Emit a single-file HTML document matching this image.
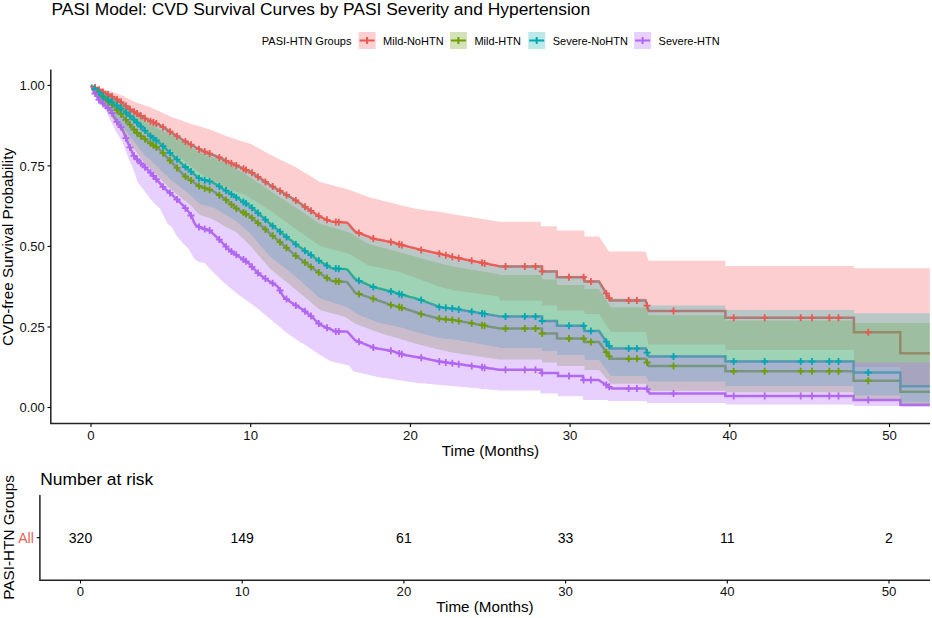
<!DOCTYPE html>
<html><head><meta charset="utf-8"><style>
html,body{margin:0;padding:0;background:#fff;}
svg{display:block;font-family:"Liberation Sans", sans-serif;}
</style></head><body>
<svg width="932" height="618" viewBox="0 0 932 618">
<rect width="932" height="618" fill="#fff"/>
<polyline points="91.0,85.5 92.5,86.3 94.0,87.1 95.5,87.9 97.0,88.7 98.5,89.5 100.0,90.3 101.5,91.1 103.0,91.9 104.5,92.6 106.0,93.4 107.5,94.1 109.0,94.9 110.5,95.7 112.0,96.6 113.5,97.5 115.0,98.4 116.5,99.2 118.0,100.1 119.5,101.0 121.0,102.1 122.5,103.3 124.0,104.5 125.5,105.7 127.0,106.9 128.5,108.2 130.0,109.3 131.5,110.2 133.0,111.1 134.5,112.0 136.0,112.9 137.5,113.8 139.0,114.7 140.5,115.6 142.0,116.5 143.5,117.4 145.0,118.3 146.5,119.1 148.0,120.0 149.5,120.9 151.0,121.5 152.5,122.1 154.0,122.7 155.5,123.3 157.0,123.9 158.5,124.5 160.0,125.3 161.5,126.3 163.0,127.2 164.5,128.2 166.0,129.1 167.5,130.1 169.0,131.0 170.5,132.0 172.0,132.9 173.5,133.9 175.0,134.9 176.5,135.9 178.0,136.8 179.5,137.8 181.0,138.8 182.5,139.7 184.0,140.7 185.5,141.6 187.0,142.4 188.5,143.3 190.0,144.1 191.5,145.0 193.0,145.8 194.5,146.7 196.0,147.5 197.5,148.3 199.0,149.2 200.5,150.0 202.0,150.6 203.5,151.2 205.0,151.8 206.5,152.4 208.0,153.0 209.5,153.6 211.0,154.2 212.5,154.8 214.0,155.4 215.5,156.0 217.0,156.6 218.5,157.2 220.0,157.8 221.5,158.6 223.0,159.3 224.5,160.0 226.0,160.8 227.5,161.5 229.0,162.3 230.5,162.9 232.0,163.6 233.5,164.3 235.0,164.9 236.5,165.6 238.0,166.3 239.5,167.0 241.0,167.6 242.5,168.3 244.0,169.0 245.5,169.6 247.0,170.3 248.5,171.0 250.0,171.7 251.5,172.4 253.0,173.5 254.5,174.5 256.0,175.5 257.5,176.5 259.0,177.5 260.5,178.6 262.0,179.6 263.5,180.6 265.0,181.6 266.5,182.6 268.0,183.6 269.5,184.7 271.0,185.6 272.5,186.5 274.0,187.4 275.5,188.3 277.0,189.2 278.5,190.1 280.0,191.0 281.5,191.9 283.0,192.8 284.5,193.7 286.0,194.6 287.5,195.5 289.0,196.4 290.5,197.3 292.0,198.2 293.5,199.1 295.0,200.0 296.5,201.0 298.0,202.0 299.5,203.0 301.0,204.1 302.5,205.1 304.0,206.1 305.5,207.1 307.0,208.1 308.5,209.1 310.0,210.1 311.5,211.2 313.0,212.2 314.5,213.2 316.0,214.2 317.5,215.2 319.0,216.2 320.5,217.1 322.0,217.7 323.5,218.3 325.0,219.0 326.5,219.6 328.0,220.2 329.5,220.8 331.0,221.4 332.5,221.8 334.0,221.8 335.5,221.9 337.0,222.0 338.5,222.1 340.0,222.2 341.5,222.3 343.0,222.4 344.5,222.5 346.0,222.6 347.5,223.0 349.0,224.7 350.5,226.4 352.0,228.1 353.5,229.8 355.0,231.5 356.5,232.1 358.0,232.7 359.5,233.2 361.0,233.8 362.5,234.4 364.0,235.0 365.5,235.6 367.0,236.1 368.5,236.7 370.0,237.3 371.5,237.9 373.0,238.5 374.5,239.0 376.0,239.3 377.5,239.6 379.0,239.8 380.5,240.1 382.0,240.4 383.5,240.6 385.0,240.9 386.5,241.2 388.0,241.4 389.5,241.7 391.0,242.0 392.5,242.3 394.0,242.8 395.5,243.2 397.0,243.6 398.5,244.1 400.0,244.5 401.5,245.0 403.0,245.4 404.5,245.7 406.0,246.1 407.5,246.5 409.0,246.9 410.5,247.2 412.0,247.6 413.5,248.0 415.0,248.4 416.5,248.8 418.0,249.1 419.5,249.5 421.0,249.9 422.5,250.2 424.0,250.5 425.5,250.8 427.0,251.1 428.5,251.4 430.0,251.7 431.5,252.1 433.0,252.4 434.5,252.7 436.0,253.0 437.5,253.3 439.0,253.6 440.5,253.9 442.0,254.3 443.5,254.7 445.0,255.0 446.5,255.4 448.0,255.8 449.5,256.1 451.0,256.5 452.5,256.9 454.0,257.3 455.5,257.6 457.0,257.9 458.5,258.2 460.0,258.5 461.5,258.8 463.0,259.1 464.5,259.4 466.0,259.7 467.5,260.0 469.0,260.3 470.5,260.6 472.0,260.9 473.5,261.2 475.0,261.5 476.5,261.8 478.0,262.0 479.5,262.3 481.0,262.6 482.5,262.9 484.0,263.2 485.5,263.5 487.0,263.8 488.5,264.1 490.0,264.4 491.5,264.7 493.0,265.0 494.5,265.3 496.0,265.6 497.5,265.9 499.0,266.2 500.0,266.4 542.0,266.4 542.0,271.4 556.8,271.4 556.8,277.2 584.5,277.2 584.5,281.6 599.0,281.6 610.7,300.5 645.6,300.5 648.6,310.9 725.4,310.9 725.4,317.8 853.9,317.8 853.9,332.3 900.3,332.3 900.3,353.2 929.8,353.2" fill="none" stroke="#E65A52" stroke-width="2.5" stroke-linejoin="miter"/><polyline points="91.0,85.5 92.5,87.0 94.0,88.6 95.5,90.1 97.0,91.7 98.5,93.2 100.0,94.7 101.5,96.3 103.0,97.7 104.5,98.9 106.0,100.0 107.5,101.1 109.0,102.3 110.5,103.4 112.0,104.7 113.5,106.3 115.0,107.9 116.5,109.5 118.0,111.1 119.5,112.6 121.0,114.2 122.5,115.8 124.0,117.5 125.5,119.3 127.0,121.1 128.5,122.9 130.0,124.7 131.5,126.5 133.0,128.3 134.5,130.0 136.0,131.8 137.5,133.6 139.0,134.7 140.5,135.8 142.0,137.0 143.5,138.1 145.0,139.2 146.5,140.4 148.0,141.5 149.5,142.6 151.0,143.7 152.5,144.7 154.0,145.7 155.5,146.7 157.0,147.7 158.5,148.7 160.0,150.0 161.5,151.6 163.0,153.2 164.5,154.7 166.0,156.3 167.5,157.9 169.0,159.4 170.5,161.0 172.0,162.6 173.5,164.2 175.0,165.8 176.5,167.4 178.0,169.0 179.5,170.6 181.0,172.2 182.5,173.8 184.0,175.4 185.5,176.6 187.0,177.7 188.5,178.7 190.0,179.8 191.5,180.8 193.0,181.8 194.5,182.9 196.0,183.9 197.5,185.0 199.0,186.0 200.5,186.9 202.0,187.3 203.5,187.8 205.0,188.3 206.5,188.7 208.0,189.2 209.5,189.7 211.0,190.2 212.5,190.8 214.0,191.7 215.5,192.7 217.0,193.7 218.5,194.7 220.0,195.7 221.5,196.7 223.0,197.6 224.5,198.7 226.0,199.9 227.5,201.1 229.0,202.4 230.5,203.6 232.0,204.9 233.5,206.1 235.0,207.3 236.5,208.6 238.0,209.4 239.5,210.3 241.0,211.1 242.5,212.0 244.0,212.8 245.5,213.7 247.0,214.5 248.5,215.4 250.0,216.2 251.5,217.5 253.0,218.8 254.5,220.1 256.0,221.4 257.5,222.7 259.0,223.9 260.5,225.2 262.0,226.5 263.5,227.8 265.0,229.1 266.5,230.4 268.0,231.7 269.5,233.0 271.0,234.3 272.5,235.6 274.0,236.9 275.5,238.2 277.0,239.5 278.5,240.8 280.0,242.1 281.5,243.4 283.0,244.7 284.5,246.0 286.0,247.4 287.5,248.7 289.0,250.0 290.5,251.3 292.0,252.6 293.5,253.9 295.0,255.2 296.5,256.3 298.0,257.4 299.5,258.5 301.0,259.6 302.5,260.7 304.0,261.8 305.5,262.9 307.0,264.0 308.5,265.1 310.0,266.2 311.5,267.3 313.0,268.4 314.5,269.5 316.0,270.6 317.5,271.7 319.0,272.8 320.5,273.8 322.0,274.8 323.5,275.7 325.0,276.7 326.5,277.7 328.0,278.6 329.5,279.6 331.0,280.6 332.5,281.1 334.0,281.1 335.5,281.2 337.0,281.3 338.5,281.4 340.0,281.5 341.5,281.6 343.0,281.7 344.5,281.8 346.0,281.9 347.5,282.4 349.0,284.4 350.5,286.5 352.0,288.5 353.5,290.6 355.0,292.6 356.5,293.1 358.0,293.6 359.5,294.1 361.0,294.6 362.5,295.1 364.0,295.6 365.5,296.1 367.0,296.6 368.5,297.1 370.0,297.6 371.5,298.1 373.0,298.6 374.5,299.1 376.0,299.7 377.5,300.2 379.0,300.7 380.5,301.2 382.0,301.8 383.5,302.3 385.0,302.8 386.5,303.3 388.0,303.9 389.5,304.4 391.0,304.9 392.5,305.4 394.0,305.8 395.5,306.1 397.0,306.5 398.5,306.9 400.0,307.3 401.5,307.7 403.0,308.1 404.5,308.5 406.0,309.0 407.5,309.5 409.0,310.0 410.5,310.5 412.0,311.0 413.5,311.5 415.0,312.0 416.5,312.5 418.0,313.0 419.5,313.5 421.0,314.0 422.5,314.4 424.0,314.8 425.5,315.1 427.0,315.5 428.5,315.9 430.0,316.3 431.5,316.7 433.0,317.0 434.5,317.4 436.0,317.8 437.5,318.2 439.0,318.5 440.5,318.8 442.0,319.0 443.5,319.1 445.0,319.3 446.5,319.4 448.0,319.5 449.5,319.7 451.0,319.8 452.5,320.0 454.0,320.1 455.5,320.3 457.0,320.6 458.5,320.8 460.0,321.1 461.5,321.4 463.0,321.7 464.5,322.0 466.0,322.2 467.5,322.5 469.0,322.8 470.5,323.1 472.0,323.3 473.5,323.6 475.0,323.9 476.5,324.2 478.0,324.4 479.5,324.7 481.0,325.0 482.5,325.3 484.0,325.5 485.5,325.8 487.0,326.1 488.5,326.4 490.0,326.7 491.5,326.9 493.0,327.2 494.5,327.5 496.0,327.8 497.5,328.0 499.0,328.3 500.0,328.5 542.0,328.5 542.0,333.5 557.0,333.5 557.0,338.6 584.5,338.6 584.5,342.0 599.0,342.0 611.0,358.8 645.6,358.8 648.6,366.1 725.4,366.1 725.4,371.3 853.6,371.3 853.6,380.7 900.4,380.7 900.4,391.7 929.8,391.7" fill="none" stroke="#6E9E00" stroke-width="2.5" stroke-linejoin="miter"/><polyline points="91.0,85.5 92.5,86.8 94.0,88.2 95.5,89.5 97.0,90.9 98.5,92.2 100.0,93.6 101.5,94.9 103.0,96.2 104.5,97.2 106.0,98.1 107.5,99.1 109.0,100.1 110.5,101.1 112.0,102.1 113.5,103.1 115.0,104.2 116.5,105.2 118.0,106.2 119.5,107.3 121.0,108.3 122.5,109.4 124.0,110.7 125.5,112.0 127.0,113.4 128.5,114.7 130.0,116.1 131.5,117.4 133.0,118.8 134.5,120.2 136.0,121.7 137.5,123.2 139.0,124.7 140.5,126.2 142.0,127.7 143.5,129.1 145.0,130.6 146.5,132.1 148.0,133.6 149.5,135.1 151.0,136.4 152.5,137.5 154.0,138.7 155.5,139.8 157.0,141.0 158.5,142.1 160.0,143.4 161.5,144.8 163.0,146.2 164.5,147.6 166.0,149.0 167.5,150.4 169.0,151.8 170.5,153.2 172.0,154.6 173.5,156.0 175.0,157.4 176.5,158.8 178.0,160.2 179.5,161.6 181.0,163.0 182.5,164.4 184.0,165.7 185.5,167.0 187.0,168.3 188.5,169.5 190.0,170.8 191.5,172.0 193.0,173.2 194.5,174.5 196.0,175.7 197.5,176.9 199.0,178.2 200.5,179.1 202.0,179.5 203.5,179.9 205.0,180.2 206.5,180.6 208.0,181.0 209.5,181.4 211.0,181.7 212.5,182.2 214.0,183.2 215.5,184.1 217.0,185.0 218.5,185.9 220.0,186.9 221.5,187.8 223.0,188.7 224.5,189.6 226.0,190.6 227.5,191.6 229.0,192.6 230.5,193.6 232.0,194.6 233.5,195.6 235.0,196.6 236.5,197.6 238.0,198.5 239.5,199.4 241.0,200.4 242.5,201.3 244.0,202.2 245.5,203.2 247.0,204.1 248.5,205.1 250.0,206.0 251.5,207.3 253.0,208.7 254.5,210.0 256.0,211.3 257.5,212.6 259.0,214.0 260.5,215.3 262.0,216.6 263.5,217.9 265.0,219.3 266.5,220.6 268.0,221.9 269.5,223.3 271.0,224.5 272.5,225.7 274.0,226.9 275.5,228.1 277.0,229.3 278.5,230.5 280.0,231.7 281.5,232.9 283.0,234.1 284.5,235.3 286.0,236.5 287.5,237.7 289.0,238.9 290.5,240.1 292.0,241.3 293.5,242.5 295.0,243.7 296.5,244.8 298.0,245.8 299.5,246.9 301.0,248.0 302.5,249.0 304.0,250.1 305.5,251.2 307.0,252.2 308.5,253.3 310.0,254.4 311.5,255.4 313.0,256.5 314.5,257.6 316.0,258.7 317.5,259.7 319.0,260.8 320.5,261.8 322.0,262.7 323.5,263.5 325.0,264.4 326.5,265.3 328.0,266.1 329.5,267.0 331.0,267.9 332.5,268.4 334.0,268.4 335.5,268.5 337.0,268.6 338.5,268.7 340.0,268.8 341.5,268.9 343.0,269.0 344.5,269.1 346.0,269.2 347.5,269.7 349.0,271.5 350.5,273.4 352.0,275.3 353.5,277.1 355.0,279.0 356.5,279.7 358.0,280.3 359.5,281.0 361.0,281.7 362.5,282.4 364.0,283.0 365.5,283.7 367.0,284.4 368.5,285.1 370.0,285.7 371.5,286.4 373.0,287.0 374.5,287.3 376.0,287.7 377.5,288.1 379.0,288.5 380.5,288.8 382.0,289.2 383.5,289.6 385.0,290.0 386.5,290.4 388.0,290.7 389.5,291.1 391.0,291.5 392.5,291.9 394.0,292.4 395.5,292.8 397.0,293.2 398.5,293.7 400.0,294.1 401.5,294.6 403.0,295.0 404.5,295.4 406.0,295.8 407.5,296.2 409.0,296.7 410.5,297.1 412.0,297.5 413.5,297.9 415.0,298.3 416.5,298.7 418.0,299.2 419.5,299.6 421.0,300.0 422.5,300.6 424.0,301.1 425.5,301.7 427.0,302.3 428.5,302.8 430.0,303.4 431.5,304.0 433.0,304.5 434.5,305.1 436.0,305.7 437.5,306.3 439.0,306.8 440.5,307.3 442.0,307.4 443.5,307.6 445.0,307.7 446.5,307.9 448.0,308.1 449.5,308.2 451.0,308.4 452.5,308.5 454.0,308.7 455.5,308.9 457.0,309.1 458.5,309.4 460.0,309.7 461.5,309.9 463.0,310.2 464.5,310.4 466.0,310.7 467.5,310.9 469.0,311.2 470.5,311.5 472.0,311.7 473.5,312.0 475.0,312.2 476.5,312.5 478.0,312.7 479.5,313.0 481.0,313.2 482.5,313.5 484.0,313.8 485.5,314.0 487.0,314.3 488.5,314.5 490.0,314.8 491.5,315.0 493.0,315.3 494.5,315.6 496.0,315.8 497.5,316.1 499.0,316.3 500.0,316.5 542.0,316.5 542.0,321.0 557.0,321.0 557.0,325.8 584.5,325.8 584.5,331.0 599.0,331.0 611.0,348.6 645.6,348.6 648.6,356.6 725.4,356.6 725.4,361.5 853.6,361.5 853.6,372.5 900.4,372.5 900.4,386.2 929.8,386.2" fill="none" stroke="#00A8B4" stroke-width="2.5" stroke-linejoin="miter"/><polyline points="91.0,85.5 92.5,88.7 94.0,91.9 95.5,94.3 97.0,96.7 98.5,99.2 100.0,100.8 101.5,102.2 103.0,103.7 104.5,105.1 106.0,106.3 107.5,107.6 109.0,108.8 110.5,110.2 112.0,113.0 113.5,115.8 115.0,118.6 116.5,121.2 118.0,123.2 119.5,125.2 121.0,127.1 122.5,129.6 124.0,133.3 125.5,137.1 127.0,140.6 128.5,144.0 130.0,147.4 131.5,150.8 133.0,154.2 134.5,156.6 136.0,158.2 137.5,159.8 139.0,161.4 140.5,162.9 142.0,164.5 143.5,165.9 145.0,167.3 146.5,168.7 148.0,170.1 149.5,171.5 151.0,173.2 152.5,174.9 154.0,176.6 155.5,178.3 157.0,180.0 158.5,181.7 160.0,183.4 161.5,185.1 163.0,186.8 164.5,188.5 166.0,189.7 167.5,190.9 169.0,192.1 170.5,193.3 172.0,194.7 173.5,196.1 175.0,197.6 176.5,199.0 178.0,200.5 179.5,201.9 181.0,203.4 182.5,204.8 184.0,206.5 185.5,208.3 187.0,210.0 188.5,211.8 190.0,213.5 191.5,216.5 193.0,219.8 194.5,223.2 196.0,225.4 197.5,226.1 199.0,226.9 200.5,227.6 202.0,228.3 203.5,228.7 205.0,229.2 206.5,229.6 208.0,230.0 209.5,230.4 211.0,231.7 212.5,233.2 214.0,234.6 215.5,236.0 217.0,237.4 218.5,238.8 220.0,240.3 221.5,241.9 223.0,243.5 224.5,245.1 226.0,246.7 227.5,248.3 229.0,249.9 230.5,250.9 232.0,251.9 233.5,252.9 235.0,254.0 236.5,255.0 238.0,256.0 239.5,257.0 241.0,258.0 242.5,259.0 244.0,260.0 245.5,261.0 247.0,262.0 248.5,263.0 250.0,264.6 251.5,266.2 253.0,267.8 254.5,269.4 256.0,271.0 257.5,272.6 259.0,274.0 260.5,275.1 262.0,276.2 263.5,277.3 265.0,278.3 266.5,279.4 268.0,280.5 269.5,281.4 271.0,282.3 272.5,283.2 274.0,284.1 275.5,285.0 277.0,285.9 278.5,287.8 280.0,290.5 281.5,293.3 283.0,296.1 284.5,297.7 286.0,298.8 287.5,299.8 289.0,300.9 290.5,301.9 292.0,303.0 293.5,304.0 295.0,304.9 296.5,305.8 298.0,306.7 299.5,307.6 301.0,308.5 302.5,309.4 304.0,310.5 305.5,311.7 307.0,312.9 308.5,314.1 310.0,315.3 311.5,316.5 313.0,317.8 314.5,319.3 316.0,320.8 317.5,322.2 319.0,323.7 320.5,324.9 322.0,325.6 323.5,326.2 325.0,326.9 326.5,327.6 328.0,328.2 329.5,328.9 331.0,329.5 332.5,330.2 334.0,330.8 335.5,331.5 337.0,331.5 338.5,331.5 340.0,331.5 341.5,331.5 343.0,331.5 344.5,331.5 346.0,331.5 347.5,331.8 349.0,333.5 350.5,335.2 352.0,336.9 353.5,338.5 355.0,340.2 356.5,340.8 358.0,341.4 359.5,342.0 361.0,342.6 362.5,343.2 364.0,343.8 365.5,344.4 367.0,345.0 368.5,345.6 370.0,346.2 371.5,346.8 373.0,347.4 374.5,348.0 376.0,348.3 377.5,348.5 379.0,348.8 380.5,349.0 382.0,349.3 383.5,349.5 385.0,349.8 386.5,350.0 388.0,350.3 389.5,350.5 391.0,350.8 392.5,351.1 394.0,351.6 395.5,352.1 397.0,352.6 398.5,353.1 400.0,353.6 401.5,354.1 403.0,354.6 404.5,355.0 406.0,355.2 407.5,355.5 409.0,355.7 410.5,356.0 412.0,356.2 413.5,356.5 415.0,356.7 416.5,357.0 418.0,357.2 419.5,357.5 421.0,357.7 422.5,358.0 424.0,358.3 425.5,358.6 427.0,358.9 428.5,359.2 430.0,359.5 431.5,359.9 433.0,360.2 434.5,360.5 436.0,360.8 437.5,361.1 439.0,361.4 440.5,361.7 442.0,361.9 443.5,362.1 445.0,362.3 446.5,362.5 448.0,362.7 449.5,362.9 451.0,363.1 452.5,363.3 454.0,363.5 455.5,363.7 457.0,363.9 458.5,364.1 460.0,364.3 461.5,364.5 463.0,364.7 464.5,364.9 466.0,365.2 467.5,365.4 469.0,365.6 470.5,365.8 472.0,366.0 473.5,366.2 475.0,366.4 476.5,366.6 478.0,366.8 479.5,367.0 481.0,367.2 482.5,367.4 484.0,367.6 485.5,367.8 487.0,368.0 488.5,368.2 490.0,368.4 491.5,368.6 493.0,368.8 494.5,369.0 496.0,369.3 497.5,369.5 499.0,369.7 500.0,369.8 541.5,369.8 541.5,373.1 558.0,373.1 558.0,376.0 583.0,376.0 583.0,379.9 598.5,379.9 612.0,388.6 646.8,388.6 649.7,393.6 725.4,393.6 725.4,395.9 853.6,395.9 853.6,400.0 900.4,400.0 900.4,404.7 929.8,404.7" fill="none" stroke="#B066F0" stroke-width="2.5" stroke-linejoin="miter"/>
<polygon points="91.0,85.5 92.5,85.9 94.0,86.4 95.5,86.8 97.0,87.2 98.5,87.7 100.0,88.1 101.5,88.6 103.0,89.0 104.5,89.4 106.0,89.9 107.5,90.3 109.0,90.7 110.5,91.2 112.0,91.7 113.5,92.3 115.0,92.9 116.5,93.5 118.0,94.0 119.5,94.6 121.0,95.2 122.5,95.8 124.0,96.6 125.5,97.3 127.0,98.1 128.5,98.8 130.0,99.6 131.5,100.3 133.0,101.1 134.5,101.8 136.0,102.3 137.5,102.8 139.0,103.4 140.5,103.9 142.0,104.4 143.5,105.0 145.0,105.5 146.5,106.1 148.0,106.6 149.5,107.1 151.0,107.7 152.5,108.4 154.0,109.0 155.5,109.6 157.0,110.3 158.5,110.9 160.0,111.6 161.5,112.3 163.0,113.0 164.5,113.7 166.0,114.4 167.5,115.1 169.0,115.8 170.5,116.6 172.0,117.2 173.5,117.7 175.0,118.2 176.5,118.7 178.0,119.3 179.5,119.8 181.0,120.3 182.5,120.8 184.0,121.4 185.5,121.9 187.0,122.4 188.5,122.9 190.0,123.5 191.5,123.9 193.0,124.4 194.5,124.8 196.0,125.3 197.5,125.7 199.0,126.2 200.5,126.6 202.0,127.1 203.5,127.5 205.0,128.0 206.5,128.4 208.0,128.9 209.5,129.3 211.0,129.9 212.5,130.5 214.0,131.1 215.5,131.7 217.0,132.3 218.5,132.9 220.0,133.5 221.5,134.1 223.0,134.7 224.5,135.3 226.0,135.9 227.5,136.5 229.0,137.1 230.5,137.6 232.0,138.0 233.5,138.5 235.0,139.0 236.5,139.5 238.0,139.9 239.5,140.4 241.0,140.9 242.5,141.3 244.0,141.8 245.5,142.3 247.0,142.7 248.5,143.2 250.0,143.7 251.5,144.3 253.0,145.1 254.5,146.0 256.0,146.8 257.5,147.6 259.0,148.5 260.5,149.3 262.0,150.1 263.5,151.0 265.0,151.8 266.5,152.6 268.0,153.5 269.5,154.3 271.0,155.1 272.5,155.8 274.0,156.5 275.5,157.3 277.0,158.0 278.5,158.7 280.0,159.4 281.5,160.2 283.0,160.9 284.5,161.6 286.0,162.3 287.5,163.1 289.0,163.8 290.5,164.5 292.0,165.2 293.5,166.0 295.0,166.7 296.5,167.6 298.0,168.5 299.5,169.5 301.0,170.4 302.5,171.3 304.0,172.2 305.5,173.1 307.0,174.0 308.5,175.0 310.0,175.9 311.5,176.8 313.0,177.7 314.5,178.6 316.0,179.6 317.5,180.5 319.0,181.4 320.5,182.1 322.0,182.5 323.5,182.9 325.0,183.3 326.5,183.7 328.0,184.1 329.5,184.5 331.0,184.9 332.5,185.3 334.0,185.7 335.5,186.1 337.0,186.5 338.5,186.9 340.0,187.3 341.5,187.7 343.0,188.1 344.5,188.5 346.0,188.9 347.5,189.3 349.0,189.7 350.5,190.2 352.0,190.8 353.5,191.4 355.0,191.9 356.5,192.5 358.0,193.0 359.5,193.6 361.0,194.2 362.5,194.7 364.0,195.3 365.5,195.9 367.0,196.4 368.5,197.0 370.0,197.4 371.5,197.8 373.0,198.2 374.5,198.5 376.0,198.9 377.5,199.3 379.0,199.7 380.5,200.1 382.0,200.5 383.5,200.9 385.0,201.2 386.5,201.6 388.0,202.0 389.5,202.4 391.0,202.8 392.5,203.2 394.0,203.5 395.5,203.9 397.0,204.3 398.5,204.7 400.0,205.0 401.5,205.4 403.0,205.8 404.5,206.1 406.0,206.5 407.5,206.8 409.0,207.2 410.5,207.5 412.0,207.9 413.5,208.2 415.0,208.6 416.5,209.0 418.0,209.2 419.5,209.4 421.0,209.6 422.5,209.8 424.0,210.0 425.5,210.2 427.0,210.4 428.5,210.5 430.0,210.7 431.5,210.9 433.0,211.1 434.5,211.3 436.0,211.5 437.5,211.7 439.0,211.9 440.5,212.1 442.0,212.3 443.5,212.6 445.0,212.9 446.5,213.1 448.0,213.4 449.5,213.6 451.0,213.9 452.5,214.2 454.0,214.4 455.5,214.7 457.0,214.9 458.5,215.2 460.0,215.4 461.5,215.6 463.0,215.9 464.5,216.1 466.0,216.4 467.5,216.6 469.0,216.8 470.5,217.1 472.0,217.3 473.5,217.6 475.0,217.8 476.5,218.0 478.0,218.3 479.5,218.5 481.0,218.8 482.5,219.0 484.0,219.2 485.5,219.5 487.0,219.7 488.5,220.0 490.0,220.2 491.5,220.4 493.0,220.7 494.5,220.9 496.0,221.2 497.5,221.4 499.0,221.6 500.0,221.8 540.8,221.8 540.8,226.2 556.8,226.2 556.8,230.6 584.5,230.6 584.5,236.4 599.0,236.4 609.0,251.5 645.6,251.5 648.6,260.8 725.4,260.8 725.4,266.1 853.9,266.1 853.9,268.3 929.8,268.3 929.8,386.3 900.3,386.3 900.3,366.9 853.9,366.9 853.9,350.0 725.4,350.0 725.4,344.5 648.6,344.5 645.6,332.0 611.0,332.0 599.0,314.0 584.5,314.0 584.5,310.5 557.0,310.5 557.0,305.5 542.0,305.5 542.0,300.5 500.0,300.5 499.0,296.4 497.5,296.2 496.0,296.0 494.5,295.8 493.0,295.6 491.5,295.4 490.0,295.2 488.5,295.0 487.0,294.8 485.5,294.6 484.0,294.4 482.5,294.2 481.0,294.0 479.5,293.8 478.0,293.6 476.5,293.4 475.0,293.2 473.5,293.0 472.0,292.8 470.5,292.6 469.0,292.4 467.5,292.2 466.0,292.0 464.5,291.8 463.0,291.6 461.5,291.4 460.0,291.2 458.5,291.0 457.0,290.8 455.5,290.6 454.0,290.3 452.5,289.9 451.0,289.5 449.5,289.1 448.0,288.8 446.5,288.4 445.0,288.0 443.5,287.7 442.0,287.3 440.5,286.9 439.0,286.4 437.5,285.9 436.0,285.3 434.5,284.8 433.0,284.2 431.5,283.7 430.0,283.1 428.5,282.6 427.0,282.0 425.5,281.5 424.0,280.9 422.5,280.4 421.0,279.8 419.5,279.3 418.0,278.7 416.5,278.2 415.0,277.6 413.5,277.1 412.0,276.5 410.5,276.0 409.0,275.4 407.5,274.9 406.0,274.3 404.5,273.8 403.0,273.2 401.5,272.7 400.0,272.1 398.5,271.6 397.0,271.2 395.5,270.9 394.0,270.6 392.5,270.2 391.0,269.9 389.5,269.6 388.0,269.3 386.5,269.0 385.0,268.7 383.5,268.4 382.0,268.1 380.5,267.8 379.0,267.5 377.5,267.2 376.0,266.9 374.5,266.6 373.0,266.3 371.5,266.0 370.0,265.7 368.5,265.4 367.0,264.5 365.5,263.6 364.0,262.7 362.5,261.8 361.0,260.9 359.5,260.0 358.0,259.1 356.5,258.2 355.0,257.3 353.5,256.4 352.0,255.5 350.5,254.6 349.0,253.8 347.5,253.4 346.0,253.0 344.5,252.6 343.0,252.2 341.5,251.8 340.0,251.4 338.5,251.0 337.0,250.6 335.5,250.2 334.0,249.8 332.5,249.4 331.0,248.9 329.5,248.5 328.0,248.1 326.5,247.7 325.0,247.3 323.5,246.9 322.0,246.5 320.5,246.1 319.0,245.3 317.5,244.2 316.0,243.2 314.5,242.2 313.0,241.1 311.5,240.1 310.0,239.0 308.5,237.9 307.0,236.9 305.5,235.8 304.0,234.8 302.5,233.8 301.0,232.7 299.5,231.7 298.0,230.6 296.5,229.6 295.0,228.5 293.5,227.4 292.0,226.3 290.5,225.2 289.0,224.2 287.5,223.1 286.0,222.0 284.5,220.9 283.0,219.8 281.5,218.7 280.0,217.6 278.5,216.6 277.0,215.5 275.5,214.4 274.0,213.3 272.5,212.2 271.0,211.1 269.5,210.1 268.0,209.1 266.5,208.2 265.0,207.2 263.5,206.3 262.0,205.3 260.5,204.4 259.0,203.4 257.5,202.5 256.0,201.6 254.5,200.6 253.0,199.7 251.5,198.7 250.0,197.8 248.5,196.8 247.0,195.9 245.5,194.9 244.0,194.3 242.5,193.8 241.0,193.4 239.5,192.9 238.0,192.4 236.5,192.0 235.0,191.5 233.5,191.0 232.0,190.6 230.5,189.9 229.0,189.1 227.5,188.3 226.0,187.5 224.5,186.6 223.0,185.8 221.5,185.0 220.0,184.2 218.5,183.4 217.0,182.6 215.5,181.7 214.0,180.9 212.5,180.1 211.0,179.3 209.5,178.5 208.0,177.7 206.5,176.8 205.0,176.0 203.5,175.2 202.0,174.4 200.5,173.6 199.0,172.5 197.5,171.4 196.0,170.2 194.5,169.0 193.0,167.8 191.5,166.7 190.0,165.5 188.5,164.3 187.0,163.2 185.5,162.0 184.0,160.8 182.5,159.7 181.0,158.5 179.5,157.3 178.0,156.1 176.5,155.0 175.0,153.8 173.5,152.7 172.0,151.7 170.5,150.6 169.0,149.6 167.5,148.5 166.0,147.5 164.5,146.4 163.0,145.4 161.5,144.3 160.0,143.2 158.5,142.2 157.0,141.1 155.5,140.1 154.0,139.0 152.5,138.0 151.0,136.9 149.5,135.7 148.0,134.4 146.5,133.0 145.0,131.7 143.5,130.3 142.0,128.9 140.5,127.6 139.0,126.2 137.5,124.8 136.0,123.5 134.5,122.1 133.0,120.7 131.5,119.4 130.0,118.0 128.5,116.6 127.0,115.3 125.5,113.9 124.0,112.5 122.5,111.2 121.0,109.8 119.5,108.5 118.0,107.2 116.5,106.0 115.0,104.8 113.5,103.6 112.0,102.4 110.5,101.2 109.0,100.0 107.5,98.8 106.0,97.6 104.5,96.3 103.0,95.1 101.5,93.9 100.0,92.7 98.5,91.5 97.0,90.3 95.5,89.1 94.0,87.9 92.5,86.7 91.0,85.5" fill="#F66B6E" fill-opacity="0.33"/><polygon points="91.0,85.5 92.5,86.4 94.0,87.2 95.5,88.1 97.0,88.9 98.5,89.8 100.0,90.6 101.5,91.5 103.0,92.4 104.5,93.2 106.0,94.1 107.5,94.9 109.0,95.8 110.5,96.6 112.0,97.5 113.5,98.4 115.0,99.2 116.5,100.1 118.0,100.9 119.5,101.9 121.0,103.0 122.5,104.1 124.0,105.2 125.5,106.3 127.0,107.5 128.5,108.6 130.0,109.7 131.5,110.8 133.0,111.9 134.5,113.0 136.0,114.2 137.5,115.3 139.0,116.4 140.5,117.5 142.0,118.6 143.5,119.8 145.0,120.9 146.5,122.0 148.0,123.1 149.5,124.2 151.0,125.1 152.5,125.9 154.0,126.6 155.5,127.4 157.0,128.2 158.5,128.9 160.0,129.7 161.5,130.4 163.0,131.2 164.5,132.0 166.0,132.7 167.5,133.5 169.0,134.3 170.5,135.0 172.0,135.8 173.5,136.5 175.0,137.3 176.5,138.2 178.0,139.2 179.5,140.1 181.0,141.0 182.5,142.0 184.0,142.9 185.5,143.9 187.0,144.8 188.5,145.7 190.0,146.7 191.5,147.6 193.0,148.5 194.5,149.5 196.0,150.4 197.5,151.3 199.0,152.3 200.5,153.1 202.0,153.7 203.5,154.2 205.0,154.8 206.5,155.4 208.0,155.9 209.5,156.5 211.0,157.1 212.5,157.7 214.0,158.2 215.5,158.8 217.0,159.4 218.5,159.9 220.0,160.5 221.5,161.1 223.0,161.6 224.5,162.2 226.0,163.0 227.5,163.8 229.0,164.7 230.5,165.6 232.0,166.5 233.5,167.3 235.0,168.2 236.5,169.1 238.0,169.9 239.5,170.8 241.0,171.7 242.5,172.6 244.0,173.4 245.5,174.3 247.0,175.4 248.5,176.4 250.0,177.4 251.5,178.4 253.0,179.4 254.5,180.5 256.0,181.5 257.5,182.5 259.0,183.5 260.5,184.5 262.0,185.6 263.5,186.6 265.0,187.6 266.5,188.6 268.0,189.6 269.5,190.7 271.0,191.6 272.5,192.6 274.0,193.6 275.5,194.5 277.0,195.5 278.5,196.4 280.0,197.4 281.5,198.4 283.0,199.3 284.5,200.3 286.0,201.2 287.5,202.2 289.0,203.2 290.5,204.1 292.0,205.1 293.5,206.0 295.0,207.0 296.5,208.0 298.0,209.0 299.5,210.1 301.0,211.1 302.5,212.1 304.0,213.1 305.5,214.1 307.0,215.2 308.5,216.2 310.0,217.2 311.5,218.2 313.0,219.2 314.5,220.3 316.0,221.3 317.5,222.3 319.0,223.3 320.5,224.1 322.0,224.6 323.5,225.0 325.0,225.4 326.5,225.9 328.0,226.3 329.5,226.7 331.0,227.2 332.5,227.6 334.0,228.0 335.5,228.5 337.0,228.9 338.5,229.3 340.0,229.8 341.5,230.2 343.0,230.6 344.5,231.1 346.0,231.5 347.5,231.9 349.0,232.4 350.5,233.2 352.0,234.1 353.5,235.1 355.0,236.0 356.5,236.9 358.0,237.8 359.5,238.7 361.0,239.6 362.5,240.5 364.0,241.4 365.5,242.3 367.0,243.2 368.5,244.1 370.0,244.5 371.5,244.9 373.0,245.3 374.5,245.7 376.0,246.1 377.5,246.5 379.0,246.9 380.5,247.3 382.0,247.7 383.5,248.1 385.0,248.5 386.5,248.8 388.0,249.2 389.5,249.6 391.0,250.0 392.5,250.4 394.0,250.8 395.5,251.2 397.0,251.6 398.5,252.0 400.0,252.4 401.5,252.9 403.0,253.3 404.5,253.7 406.0,254.1 407.5,254.5 409.0,254.9 410.5,255.3 412.0,255.8 413.5,256.2 415.0,256.6 416.5,257.0 418.0,257.4 419.5,257.8 421.0,258.2 422.5,258.7 424.0,259.1 425.5,259.5 427.0,259.9 428.5,260.3 430.0,260.7 431.5,261.1 433.0,261.6 434.5,262.0 436.0,262.4 437.5,262.8 439.0,263.2 440.5,263.6 442.0,264.0 443.5,264.3 445.0,264.6 446.5,265.0 448.0,265.3 449.5,265.7 451.0,266.0 452.5,266.3 454.0,266.7 455.5,267.0 457.0,267.2 458.5,267.5 460.0,267.7 461.5,268.0 463.0,268.3 464.5,268.5 466.0,268.8 467.5,269.0 469.0,269.3 470.5,269.5 472.0,269.8 473.5,270.0 475.0,270.3 476.5,270.5 478.0,270.8 479.5,271.0 481.0,271.3 482.5,271.5 484.0,271.8 485.5,272.1 487.0,272.3 488.5,272.6 490.0,272.8 491.5,273.1 493.0,273.3 494.5,273.6 496.0,273.8 497.5,274.1 499.0,274.3 500.0,275.0 542.0,275.0 542.0,279.5 557.0,279.5 557.0,285.0 584.5,285.0 584.5,289.0 599.0,289.0 611.0,307.5 645.6,307.5 648.6,315.3 725.4,315.3 725.4,320.6 853.9,320.6 853.9,323.0 929.8,323.0 929.8,404.5 900.4,404.5 900.4,399.0 853.6,399.0 853.6,392.2 725.4,392.2 725.4,390.7 648.6,390.7 645.6,383.7 611.0,383.7 599.0,370.0 584.5,370.0 584.5,366.0 557.0,366.0 557.0,362.5 542.0,362.5 542.0,359.6 500.0,359.6 499.0,359.5 497.5,359.2 496.0,359.0 494.5,358.8 493.0,358.6 491.5,358.4 490.0,358.1 488.5,357.9 487.0,357.7 485.5,357.5 484.0,357.3 482.5,357.0 481.0,356.8 479.5,356.6 478.0,356.4 476.5,356.2 475.0,355.9 473.5,355.7 472.0,355.5 470.5,355.3 469.0,355.1 467.5,354.8 466.0,354.6 464.5,354.4 463.0,354.2 461.5,354.0 460.0,353.7 458.5,353.5 457.0,353.3 455.5,353.1 454.0,352.8 452.5,352.5 451.0,352.2 449.5,351.9 448.0,351.6 446.5,351.2 445.0,350.9 443.5,350.6 442.0,350.3 440.5,350.0 439.0,349.6 437.5,349.3 436.0,348.9 434.5,348.5 433.0,348.1 431.5,347.7 430.0,347.4 428.5,347.0 427.0,346.6 425.5,346.2 424.0,345.8 422.5,345.5 421.0,345.1 419.5,344.7 418.0,344.3 416.5,343.9 415.0,343.5 413.5,343.0 412.0,342.6 410.5,342.1 409.0,341.7 407.5,341.2 406.0,340.8 404.5,340.3 403.0,339.9 401.5,339.4 400.0,339.0 398.5,338.5 397.0,338.1 395.5,337.6 394.0,337.2 392.5,336.7 391.0,336.3 389.5,335.8 388.0,335.4 386.5,334.9 385.0,334.4 383.5,334.0 382.0,333.5 380.5,333.1 379.0,332.6 377.5,332.1 376.0,331.5 374.5,331.0 373.0,330.4 371.5,329.9 370.0,329.3 368.5,328.7 367.0,328.2 365.5,327.6 364.0,327.1 362.5,326.5 361.0,325.9 359.5,325.4 358.0,324.8 356.5,324.3 355.0,323.7 353.5,322.7 352.0,321.6 350.5,320.6 349.0,319.5 347.5,318.5 346.0,317.5 344.5,316.7 343.0,316.3 341.5,315.9 340.0,315.5 338.5,315.1 337.0,314.7 335.5,314.2 334.0,313.8 332.5,313.4 331.0,313.0 329.5,312.6 328.0,312.2 326.5,311.8 325.0,311.4 323.5,311.0 322.0,310.5 320.5,310.1 319.0,309.2 317.5,307.9 316.0,306.6 314.5,305.4 313.0,304.1 311.5,302.9 310.0,301.6 308.5,300.3 307.0,299.1 305.5,297.8 304.0,296.6 302.5,295.3 301.0,294.0 299.5,292.8 298.0,291.5 296.5,290.3 295.0,289.0 293.5,287.8 292.0,286.6 290.5,285.3 289.0,284.1 287.5,282.9 286.0,281.7 284.5,280.4 283.0,279.2 281.5,278.0 280.0,276.8 278.5,275.5 277.0,274.3 275.5,273.1 274.0,271.9 272.5,270.6 271.0,269.4 269.5,268.0 268.0,266.3 266.5,264.6 265.0,262.8 263.5,261.1 262.0,259.4 260.5,257.6 259.0,255.9 257.5,254.2 256.0,252.4 254.5,250.7 253.0,249.0 251.5,247.2 250.0,245.5 248.5,244.0 247.0,242.6 245.5,241.1 244.0,239.6 242.5,238.2 241.0,236.7 239.5,235.2 238.0,233.8 236.5,232.3 235.0,231.5 233.5,230.7 232.0,230.0 230.5,229.2 229.0,228.5 227.5,227.7 226.0,227.0 224.5,226.2 223.0,225.3 221.5,224.4 220.0,223.5 218.5,222.6 217.0,221.7 215.5,220.8 214.0,219.9 212.5,219.0 211.0,218.5 209.5,218.0 208.0,217.6 206.5,217.1 205.0,216.7 203.5,216.2 202.0,215.8 200.5,215.3 199.0,214.1 197.5,212.5 196.0,210.9 194.5,209.4 193.0,207.8 191.5,206.2 190.0,204.7 188.5,203.5 187.0,202.3 185.5,201.1 184.0,199.9 182.5,198.7 181.0,197.5 179.5,196.3 178.0,195.2 176.5,194.0 175.0,192.8 173.5,191.6 172.0,190.4 170.5,189.1 169.0,187.6 167.5,186.0 166.0,184.5 164.5,183.0 163.0,181.4 161.5,179.9 160.0,178.4 158.5,176.9 157.0,175.3 155.5,173.8 154.0,172.3 152.5,170.7 151.0,169.2 149.5,167.8 148.0,166.5 146.5,165.3 145.0,164.0 143.5,161.9 142.0,159.8 140.5,157.8 139.0,155.7 137.5,153.6 136.0,151.5 134.5,149.5 133.0,147.4 131.5,145.3 130.0,143.2 128.5,141.2 127.0,139.1 125.5,137.0 124.0,134.9 122.5,132.8 121.0,130.8 119.5,128.7 118.0,126.5 116.5,124.2 115.0,122.0 113.5,119.8 112.0,117.5 110.5,115.2 109.0,113.0 107.5,110.8 106.0,108.5 104.5,106.2 103.0,104.0 101.5,101.8 100.0,99.5 98.5,97.2 97.0,95.0 95.5,92.8 94.0,90.5 92.5,88.2 91.0,86.0" fill="#7CA51E" fill-opacity="0.33"/><polygon points="91.0,84.0 92.5,84.8 94.0,85.6 95.5,86.4 97.0,87.2 98.5,88.0 100.0,88.8 101.5,89.6 103.0,90.4 104.5,91.1 106.0,91.9 107.5,92.6 109.0,93.4 110.5,94.2 112.0,95.1 113.5,96.0 115.0,96.9 116.5,97.7 118.0,98.6 119.5,99.5 121.0,100.6 122.5,101.8 124.0,103.0 125.5,104.2 127.0,105.4 128.5,106.7 130.0,107.8 131.5,108.7 133.0,109.6 134.5,110.5 136.0,111.4 137.5,112.3 139.0,113.2 140.5,114.1 142.0,115.0 143.5,115.9 145.0,116.8 146.5,117.6 148.0,118.5 149.5,119.4 151.0,120.0 152.5,120.6 154.0,121.2 155.5,121.8 157.0,122.4 158.5,123.0 160.0,123.8 161.5,124.8 163.0,125.7 164.5,126.7 166.0,127.6 167.5,128.6 169.0,129.5 170.5,130.5 172.0,131.4 173.5,132.4 175.0,133.4 176.5,134.4 178.0,135.3 179.5,136.3 181.0,137.3 182.5,138.2 184.0,139.2 185.5,140.1 187.0,140.9 188.5,141.8 190.0,142.6 191.5,143.5 193.0,144.3 194.5,145.2 196.0,146.0 197.5,146.8 199.0,147.7 200.5,148.5 202.0,149.1 203.5,149.7 205.0,150.3 206.5,150.9 208.0,151.5 209.5,152.1 211.0,152.7 212.5,153.3 214.0,153.9 215.5,154.5 217.0,155.1 218.5,155.7 220.0,156.3 221.5,157.1 223.0,157.8 224.5,158.5 226.0,159.3 227.5,160.0 229.0,160.8 230.5,161.4 232.0,162.1 233.5,162.8 235.0,163.4 236.5,164.1 238.0,164.8 239.5,165.5 241.0,166.1 242.5,166.8 244.0,167.5 245.5,168.1 247.0,168.8 248.5,169.5 250.0,170.2 251.5,170.9 253.0,172.0 254.5,173.0 256.0,174.0 257.5,175.0 259.0,176.0 260.5,177.1 262.0,178.1 263.5,179.1 265.0,180.1 266.5,181.1 268.0,182.1 269.5,183.2 271.0,184.1 272.5,185.0 274.0,185.9 275.5,186.8 277.0,187.7 278.5,188.6 280.0,189.5 281.5,190.4 283.0,191.3 284.5,192.2 286.0,193.1 287.5,194.0 289.0,194.9 290.5,195.8 292.0,196.7 293.5,197.6 295.0,198.5 296.5,199.7 298.0,200.9 299.5,202.1 301.0,203.3 302.5,204.5 304.0,205.7 305.5,206.9 307.0,208.1 308.5,209.2 310.0,210.4 311.5,211.6 313.0,212.8 314.5,214.0 316.0,215.2 317.5,216.4 319.0,217.6 320.5,218.6 322.0,219.2 323.5,219.8 325.0,220.5 326.5,221.1 328.0,221.7 329.5,222.3 331.0,222.9 332.5,223.3 334.0,223.3 335.5,223.4 337.0,223.5 338.5,223.6 340.0,223.7 341.5,223.8 343.0,223.9 344.5,224.0 346.0,224.1 347.5,224.5 349.0,226.2 350.5,227.9 352.0,229.6 353.5,231.3 355.0,233.0 356.5,233.6 358.0,234.2 359.5,234.7 361.0,235.3 362.5,235.9 364.0,236.5 365.5,237.1 367.0,237.6 368.5,238.2 370.0,238.8 371.5,239.4 373.0,240.0 374.5,240.5 376.0,240.8 377.5,241.1 379.0,241.3 380.5,241.6 382.0,241.9 383.5,242.1 385.0,242.4 386.5,242.7 388.0,242.9 389.5,243.2 391.0,243.5 392.5,243.8 394.0,244.3 395.5,244.7 397.0,245.1 398.5,245.6 400.0,246.0 401.5,246.5 403.0,246.9 404.5,247.2 406.0,247.6 407.5,248.0 409.0,248.4 410.5,248.7 412.0,249.1 413.5,249.5 415.0,249.9 416.5,250.3 418.0,250.6 419.5,251.0 421.0,251.4 422.5,251.7 424.0,252.0 425.5,252.3 427.0,252.6 428.5,252.9 430.0,253.2 431.5,253.6 433.0,253.9 434.5,254.2 436.0,254.5 437.5,254.8 439.0,255.1 440.5,255.4 442.0,255.8 443.5,256.2 445.0,256.5 446.5,256.9 448.0,257.3 449.5,257.6 451.0,258.0 452.5,258.4 454.0,258.8 455.5,259.1 457.0,259.4 458.5,259.7 460.0,260.0 461.5,260.3 463.0,260.6 464.5,260.9 466.0,261.2 467.5,261.5 469.0,261.8 470.5,262.1 472.0,262.4 473.5,262.7 475.0,263.0 476.5,263.3 478.0,263.5 479.5,263.8 481.0,264.1 482.5,264.4 484.0,264.7 485.5,265.0 487.0,265.3 488.5,265.6 490.0,265.9 491.5,266.2 493.0,266.5 494.5,266.8 496.0,267.1 497.5,267.4 499.0,267.7 500.0,265.0 542.0,265.0 542.0,270.0 556.8,270.0 556.8,275.8 584.5,275.8 584.5,280.0 599.0,280.0 610.7,298.5 645.6,298.5 648.6,305.5 725.4,305.5 725.4,310.0 853.9,310.0 853.9,313.3 929.8,313.3 929.8,402.6 900.4,402.6 900.4,395.6 853.6,395.6 853.6,386.0 725.4,386.0 725.4,381.5 648.6,381.5 645.6,376.0 611.0,376.0 599.0,360.0 584.5,360.0 584.5,355.0 557.0,355.0 557.0,351.0 542.0,351.0 542.0,348.0 500.0,348.0 499.0,347.3 497.5,347.1 496.0,346.8 494.5,346.5 493.0,346.3 491.5,346.0 490.0,345.7 488.5,345.5 487.0,345.2 485.5,345.0 484.0,344.7 482.5,344.4 481.0,344.2 479.5,343.9 478.0,343.6 476.5,343.4 475.0,343.1 473.5,342.8 472.0,342.6 470.5,342.3 469.0,342.1 467.5,341.8 466.0,341.5 464.5,341.3 463.0,341.0 461.5,340.7 460.0,340.5 458.5,340.2 457.0,340.0 455.5,339.7 454.0,339.5 452.5,339.4 451.0,339.3 449.5,339.1 448.0,339.0 446.5,338.9 445.0,338.7 443.5,338.6 442.0,338.5 440.5,338.3 439.0,338.0 437.5,337.7 436.0,337.3 434.5,336.9 433.0,336.5 431.5,336.1 430.0,335.7 428.5,335.3 427.0,335.0 425.5,334.6 424.0,334.2 422.5,333.8 421.0,333.4 419.5,333.0 418.0,332.6 416.5,332.2 415.0,331.8 413.5,331.3 412.0,330.9 410.5,330.4 409.0,330.0 407.5,329.5 406.0,329.1 404.5,328.6 403.0,328.2 401.5,327.7 400.0,327.3 398.5,326.8 397.0,326.5 395.5,326.2 394.0,325.9 392.5,325.6 391.0,325.3 389.5,325.0 388.0,324.7 386.5,324.3 385.0,324.0 383.5,323.7 382.0,323.4 380.5,323.1 379.0,322.8 377.5,322.4 376.0,321.8 374.5,321.2 373.0,320.6 371.5,320.0 370.0,319.4 368.5,318.8 367.0,318.2 365.5,317.6 364.0,317.1 362.5,316.5 361.0,315.9 359.5,315.3 358.0,314.5 356.5,313.5 355.0,312.4 353.5,311.4 352.0,310.4 350.5,309.4 349.0,308.4 347.5,307.4 346.0,306.8 344.5,306.3 343.0,305.8 341.5,305.4 340.0,304.9 338.5,304.4 337.0,303.9 335.5,303.4 334.0,302.9 332.5,302.4 331.0,302.0 329.5,301.5 328.0,301.0 326.5,300.5 325.0,300.0 323.5,299.5 322.0,299.0 320.5,298.6 319.0,297.5 317.5,296.2 316.0,294.8 314.5,293.5 313.0,292.1 311.5,290.8 310.0,289.4 308.5,288.1 307.0,286.8 305.5,285.4 304.0,284.1 302.5,282.7 301.0,281.4 299.5,280.0 298.0,278.7 296.5,277.3 295.0,276.0 293.5,274.8 292.0,273.7 290.5,272.5 289.0,271.3 287.5,270.1 286.0,269.0 284.5,267.8 283.0,266.6 281.5,265.5 280.0,264.3 278.5,263.1 277.0,262.0 275.5,260.8 274.0,259.6 272.5,258.4 271.0,257.3 269.5,255.9 268.0,254.2 266.5,252.5 265.0,250.7 263.5,249.0 262.0,247.3 260.5,245.5 259.0,243.8 257.5,242.1 256.0,240.3 254.5,238.6 253.0,236.9 251.5,235.1 250.0,233.4 248.5,232.1 247.0,230.7 245.5,229.4 244.0,228.1 242.5,226.7 241.0,225.4 239.5,224.1 238.0,222.7 236.5,221.4 235.0,220.5 233.5,219.6 232.0,218.6 230.5,217.7 229.0,216.8 227.5,215.9 226.0,215.0 224.5,214.1 223.0,213.2 221.5,212.3 220.0,211.4 218.5,210.5 217.0,209.6 215.5,208.7 214.0,207.8 212.5,206.9 211.0,206.5 209.5,206.2 208.0,205.9 206.5,205.6 205.0,205.3 203.5,205.0 202.0,204.7 200.5,204.4 199.0,203.3 197.5,201.9 196.0,200.4 194.5,199.0 193.0,197.5 191.5,196.1 190.0,194.7 188.5,193.5 187.0,192.4 185.5,191.2 184.0,190.1 182.5,188.9 181.0,187.7 179.5,186.6 178.0,185.4 176.5,184.3 175.0,183.1 173.5,181.9 172.0,180.8 170.5,179.5 169.0,178.0 167.5,176.6 166.0,175.1 164.5,173.7 163.0,172.2 161.5,170.7 160.0,169.3 158.5,167.8 157.0,166.3 155.5,164.9 154.0,163.4 152.5,161.9 151.0,160.5 149.5,159.2 148.0,158.1 146.5,157.1 145.0,156.0 143.5,154.0 142.0,152.1 140.5,150.1 139.0,148.2 137.5,146.2 136.0,144.2 134.5,142.3 133.0,140.3 131.5,138.3 130.0,136.4 128.5,134.4 127.0,132.5 125.5,130.5 124.0,128.5 122.5,126.6 121.0,124.6 119.5,122.7 118.0,120.7 116.5,118.8 115.0,116.9 113.5,114.9 112.0,113.0 110.5,111.1 109.0,109.1 107.5,107.2 106.0,105.3 104.5,103.4 103.0,101.4 101.5,99.5 100.0,97.6 98.5,95.6 97.0,93.7 95.5,91.8 94.0,89.9 92.5,87.9 91.0,86.0" fill="#31B8B6" fill-opacity="0.33"/><polygon points="91.0,87.0 92.5,88.3 94.0,89.7 95.5,91.0 97.0,92.4 98.5,93.7 100.0,95.1 101.5,96.4 103.0,97.7 104.5,98.7 106.0,99.6 107.5,100.6 109.0,101.6 110.5,102.6 112.0,103.6 113.5,104.6 115.0,105.7 116.5,106.7 118.0,107.7 119.5,108.8 121.0,109.8 122.5,110.9 124.0,112.2 125.5,113.5 127.0,114.9 128.5,116.2 130.0,117.6 131.5,118.9 133.0,120.3 134.5,121.7 136.0,123.2 137.5,124.7 139.0,126.2 140.5,127.7 142.0,129.2 143.5,130.6 145.0,132.1 146.5,133.6 148.0,135.1 149.5,136.6 151.0,137.9 152.5,139.0 154.0,140.2 155.5,141.3 157.0,142.5 158.5,143.6 160.0,144.9 161.5,146.3 163.0,147.7 164.5,149.1 166.0,150.5 167.5,151.9 169.0,153.3 170.5,154.7 172.0,156.1 173.5,157.5 175.0,158.9 176.5,160.3 178.0,161.7 179.5,163.1 181.0,164.5 182.5,165.9 184.0,167.2 185.5,168.5 187.0,169.8 188.5,171.0 190.0,172.3 191.5,173.5 193.0,174.7 194.5,176.0 196.0,177.2 197.5,178.4 199.0,179.7 200.5,180.6 202.0,181.0 203.5,181.4 205.0,181.7 206.5,182.1 208.0,182.5 209.5,182.9 211.0,183.2 212.5,183.7 214.0,184.7 215.5,185.6 217.0,186.5 218.5,187.4 220.0,188.4 221.5,189.3 223.0,190.2 224.5,191.1 226.0,192.1 227.5,193.1 229.0,194.1 230.5,195.1 232.0,196.1 233.5,197.1 235.0,198.1 236.5,199.1 238.0,200.0 239.5,200.9 241.0,201.9 242.5,202.8 244.0,203.8 245.5,204.7 247.0,205.6 248.5,206.6 250.0,207.5 251.5,208.8 253.0,210.2 254.5,211.5 256.0,212.8 257.5,214.1 259.0,215.5 260.5,216.8 262.0,218.1 263.5,219.4 265.0,220.8 266.5,222.1 268.0,223.4 269.5,224.8 271.0,226.0 272.5,227.2 274.0,228.4 275.5,229.6 277.0,230.8 278.5,232.0 280.0,233.2 281.5,234.4 283.0,235.6 284.5,236.8 286.0,238.0 287.5,239.2 289.0,240.4 290.5,241.6 292.0,242.8 293.5,244.0 295.0,245.2 296.5,246.3 298.0,247.3 299.5,248.4 301.0,249.5 302.5,250.5 304.0,251.6 305.5,252.7 307.0,253.7 308.5,254.8 310.0,255.9 311.5,256.9 313.0,258.0 314.5,259.1 316.0,260.2 317.5,261.2 319.0,262.3 320.5,263.3 322.0,264.2 323.5,265.0 325.0,265.9 326.5,266.8 328.0,267.6 329.5,268.5 331.0,269.4 332.5,269.9 334.0,269.9 335.5,270.0 337.0,270.1 338.5,270.2 340.0,270.3 341.5,270.4 343.0,270.5 344.5,270.6 346.0,270.7 347.5,271.2 349.0,273.0 350.5,274.9 352.0,276.8 353.5,278.6 355.0,280.5 356.5,281.2 358.0,281.8 359.5,282.5 361.0,283.2 362.5,283.9 364.0,284.5 365.5,285.2 367.0,285.9 368.5,286.6 370.0,287.2 371.5,287.9 373.0,288.5 374.5,288.8 376.0,289.2 377.5,289.6 379.0,290.0 380.5,290.3 382.0,290.7 383.5,291.1 385.0,291.5 386.5,291.9 388.0,292.2 389.5,292.6 391.0,293.0 392.5,293.4 394.0,293.9 395.5,294.3 397.0,294.7 398.5,295.2 400.0,295.6 401.5,296.1 403.0,296.5 404.5,296.9 406.0,297.3 407.5,297.7 409.0,298.2 410.5,298.6 412.0,299.0 413.5,299.4 415.0,299.8 416.5,300.2 418.0,300.7 419.5,301.1 421.0,301.5 422.5,301.9 424.0,302.2 425.5,302.6 427.0,303.0 428.5,303.4 430.0,303.7 431.5,304.1 433.0,304.5 434.5,304.8 436.0,305.2 437.5,305.6 439.0,306.0 440.5,306.3 442.0,306.4 443.5,306.6 445.0,306.7 446.5,306.9 448.0,307.1 449.5,307.2 451.0,307.4 452.5,307.5 454.0,307.7 455.5,307.9 457.0,308.1 458.5,308.4 460.0,308.7 461.5,308.9 463.0,309.2 464.5,309.4 466.0,309.7 467.5,309.9 469.0,310.2 470.5,310.5 472.0,310.7 473.5,311.0 475.0,311.2 476.5,311.5 478.0,311.7 479.5,312.0 481.0,312.2 482.5,312.5 484.0,312.8 485.5,313.0 487.0,313.3 488.5,313.5 490.0,313.8 491.5,314.0 493.0,314.3 494.5,314.6 496.0,314.8 497.5,315.1 499.0,315.3 500.0,315.5 542.0,315.5 542.0,320.0 557.0,320.0 557.0,324.8 584.5,324.8 584.5,330.0 599.0,330.0 611.0,347.6 645.6,347.6 648.6,355.3 725.4,355.3 725.4,360.3 853.6,360.3 853.6,362.6 929.8,362.6 929.8,407.0 900.4,407.0 900.4,406.0 853.6,406.0 853.6,404.5 725.4,404.5 725.4,403.0 646.8,403.0 646.8,401.0 608.0,401.0 608.0,400.0 583.0,400.0 583.0,396.3 558.0,396.3 558.0,393.4 540.6,393.4 540.6,390.5 500.0,390.5 499.0,390.4 497.5,390.3 496.0,390.1 494.5,390.0 493.0,389.8 491.5,389.7 490.0,389.6 488.5,389.4 487.0,389.3 485.5,389.1 484.0,389.0 482.5,388.9 481.0,388.7 479.5,388.6 478.0,388.4 476.5,388.3 475.0,388.2 473.5,388.0 472.0,387.9 470.5,387.7 469.0,387.6 467.5,387.5 466.0,387.3 464.5,387.2 463.0,387.0 461.5,386.9 460.0,386.8 458.5,386.6 457.0,386.5 455.5,386.3 454.0,386.2 452.5,386.1 451.0,385.9 449.5,385.8 448.0,385.6 446.5,385.5 445.0,385.4 443.5,385.2 442.0,385.1 440.5,384.9 439.0,384.8 437.5,384.7 436.0,384.6 434.5,384.4 433.0,384.3 431.5,384.2 430.0,384.0 428.5,383.9 427.0,383.8 425.5,383.6 424.0,383.5 422.5,383.4 421.0,383.2 419.5,383.1 418.0,383.0 416.5,382.8 415.0,382.6 413.5,382.4 412.0,382.1 410.5,381.9 409.0,381.7 407.5,381.5 406.0,381.2 404.5,381.0 403.0,380.8 401.5,380.6 400.0,380.3 398.5,380.1 397.0,379.9 395.5,379.7 394.0,379.4 392.5,379.2 391.0,379.0 389.5,378.8 388.0,378.6 386.5,378.3 385.0,378.1 383.5,377.9 382.0,377.7 380.5,377.4 379.0,377.2 377.5,376.9 376.0,376.6 374.5,376.2 373.0,375.9 371.5,375.5 370.0,375.2 368.5,374.9 367.0,374.5 365.5,374.2 364.0,373.8 362.5,373.5 361.0,373.1 359.5,372.8 358.0,372.4 356.5,372.1 355.0,371.8 353.5,371.4 352.0,369.8 350.5,367.5 349.0,365.4 347.5,365.1 346.0,364.7 344.5,364.4 343.0,364.1 341.5,363.7 340.0,363.4 338.5,363.1 337.0,362.8 335.5,362.4 334.0,362.1 332.5,361.8 331.0,361.2 329.5,360.4 328.0,359.5 326.5,358.7 325.0,357.8 323.5,357.0 322.0,356.1 320.5,355.3 319.0,354.3 317.5,353.3 316.0,352.3 314.5,351.2 313.0,350.2 311.5,349.2 310.0,348.2 308.5,347.2 307.0,346.1 305.5,345.2 304.0,344.3 302.5,343.3 301.0,342.4 299.5,341.5 298.0,340.6 296.5,339.6 295.0,338.6 293.5,337.6 292.0,336.6 290.5,335.6 289.0,334.6 287.5,333.6 286.0,332.3 284.5,331.0 283.0,329.7 281.5,328.4 280.0,327.1 278.5,325.8 277.0,324.5 275.5,323.4 274.0,322.2 272.5,321.0 271.0,319.8 269.5,318.6 268.0,317.4 266.5,316.1 265.0,314.8 263.5,313.5 262.0,312.2 260.5,310.9 259.0,309.6 257.5,308.4 256.0,307.3 254.5,306.2 253.0,305.1 251.5,304.0 250.0,302.9 248.5,301.8 247.0,300.7 245.5,299.7 244.0,298.6 242.5,297.6 241.0,296.5 239.5,295.5 238.0,294.3 236.5,293.1 235.0,291.9 233.5,290.6 232.0,289.4 230.5,288.2 229.0,286.9 227.5,285.6 226.0,284.3 224.5,283.0 223.0,281.7 221.5,280.3 220.0,279.0 218.5,277.6 217.0,276.1 215.5,274.6 214.0,273.1 212.5,271.6 211.0,270.1 209.5,268.6 208.0,266.8 206.5,265.0 205.0,263.3 203.5,262.7 202.0,262.4 200.5,262.2 199.0,261.9 197.5,261.1 196.0,260.0 194.5,258.9 193.0,256.5 191.5,253.9 190.0,251.2 188.5,248.8 187.0,247.3 185.5,245.8 184.0,244.3 182.5,242.8 181.0,241.0 179.5,239.3 178.0,237.5 176.5,235.7 175.0,232.9 173.5,229.9 172.0,227.0 170.5,226.0 169.0,224.9 167.5,223.6 166.0,220.6 164.5,217.6 163.0,214.7 161.5,211.7 160.0,208.7 158.5,207.3 157.0,205.8 155.5,204.4 154.0,202.9 152.5,201.5 151.0,199.7 149.5,197.7 148.0,195.7 146.5,193.7 145.0,191.7 143.5,189.7 142.0,187.7 140.5,185.7 139.0,183.8 137.5,181.7 136.0,177.1 134.5,172.5 133.0,168.4 131.5,165.1 130.0,161.8 128.5,158.4 127.0,154.4 125.5,150.2 124.0,146.0 122.5,142.1 121.0,139.7 119.5,137.3 118.0,135.0 116.5,132.4 115.0,129.4 113.5,126.4 112.0,123.4 110.5,120.4 109.0,117.4 107.5,114.3 106.0,111.3 104.5,109.0 103.0,106.9 101.5,104.8 100.0,102.7 98.5,104.5 97.0,100.5 95.5,96.5 94.0,92.5 92.5,88.8 91.0,86.0" fill="#B970FC" fill-opacity="0.33"/>
<path d="M91.5,87.6h7M95.0,84.1v7" stroke="#E65A52" stroke-width="1.8"/>
<path d="M95.5,89.7h7M99.0,86.2v7" stroke="#E65A52" stroke-width="1.8"/>
<path d="M99.5,91.9h7M103.0,88.4v7" stroke="#E65A52" stroke-width="1.8"/>
<path d="M104.5,94.4h7M108.0,90.9v7" stroke="#E65A52" stroke-width="1.8"/>
<path d="M108.5,96.6h7M112.0,93.1v7" stroke="#E65A52" stroke-width="1.8"/>
<path d="M113.5,99.5h7M117.0,96.0v7" stroke="#E65A52" stroke-width="1.8"/>
<path d="M117.5,102.1h7M121.0,98.6v7" stroke="#E65A52" stroke-width="1.8"/>
<path d="M122.5,106.1h7M126.0,102.6v7" stroke="#E65A52" stroke-width="1.8"/>
<path d="M126.5,109.3h7M130.0,105.8v7" stroke="#E65A52" stroke-width="1.8"/>
<path d="M130.5,111.7h7M134.0,108.2v7" stroke="#E65A52" stroke-width="1.8"/>
<path d="M133.5,113.5h7M137.0,110.0v7" stroke="#E65A52" stroke-width="1.8"/>
<path d="M137.3,115.8h7M140.8,112.3v7" stroke="#E65A52" stroke-width="1.8"/>
<path d="M141.5,118.3h7M145.0,114.8v7" stroke="#E65A52" stroke-width="1.8"/>
<path d="M147.0,121.3h7M150.5,117.8v7" stroke="#E65A52" stroke-width="1.8"/>
<path d="M149.9,122.4h7M153.4,118.9v7" stroke="#E65A52" stroke-width="1.8"/>
<path d="M152.8,123.6h7M156.3,120.1v7" stroke="#E65A52" stroke-width="1.8"/>
<path d="M159.5,127.2h7M163.0,123.7v7" stroke="#E65A52" stroke-width="1.8"/>
<path d="M166.5,131.7h7M170.0,128.2v7" stroke="#E65A52" stroke-width="1.8"/>
<path d="M173.5,136.2h7M177.0,132.7v7" stroke="#E65A52" stroke-width="1.8"/>
<path d="M181.9,141.5h7M185.4,138.0v7" stroke="#E65A52" stroke-width="1.8"/>
<path d="M187.5,144.7h7M191.0,141.2v7" stroke="#E65A52" stroke-width="1.8"/>
<path d="M195.5,149.2h7M199.0,145.7v7" stroke="#E65A52" stroke-width="1.8"/>
<path d="M201.2,151.6h7M204.7,148.1v7" stroke="#E65A52" stroke-width="1.8"/>
<path d="M206.1,153.6h7M209.6,150.1v7" stroke="#E65A52" stroke-width="1.8"/>
<path d="M215.8,157.5h7M219.3,154.0v7" stroke="#E65A52" stroke-width="1.8"/>
<path d="M222.5,160.8h7M226.0,157.3v7" stroke="#E65A52" stroke-width="1.8"/>
<path d="M227.9,163.3h7M231.4,159.8v7" stroke="#E65A52" stroke-width="1.8"/>
<path d="M232.8,165.5h7M236.3,162.0v7" stroke="#E65A52" stroke-width="1.8"/>
<path d="M240.0,168.7h7M243.5,165.2v7" stroke="#E65A52" stroke-width="1.8"/>
<path d="M242.5,169.9h7M246.0,166.4v7" stroke="#E65A52" stroke-width="1.8"/>
<path d="M248.5,172.8h7M252.0,169.3v7" stroke="#E65A52" stroke-width="1.8"/>
<path d="M254.5,176.9h7M258.0,173.4v7" stroke="#E65A52" stroke-width="1.8"/>
<path d="M261.9,181.9h7M265.4,178.4v7" stroke="#E65A52" stroke-width="1.8"/>
<path d="M269.2,186.6h7M272.7,183.1v7" stroke="#E65A52" stroke-width="1.8"/>
<path d="M276.5,191.0h7M280.0,187.5v7" stroke="#E65A52" stroke-width="1.8"/>
<path d="M283.0,194.9h7M286.5,191.4v7" stroke="#E65A52" stroke-width="1.8"/>
<path d="M292.3,200.5h7M295.8,197.0v7" stroke="#E65A52" stroke-width="1.8"/>
<path d="M301.5,206.8h7M305.0,203.3v7" stroke="#E65A52" stroke-width="1.8"/>
<path d="M307.5,210.8h7M311.0,207.3v7" stroke="#E65A52" stroke-width="1.8"/>
<path d="M315.3,216.1h7M318.8,212.6v7" stroke="#E65A52" stroke-width="1.8"/>
<path d="M323.5,219.8h7M327.0,216.3v7" stroke="#E65A52" stroke-width="1.8"/>
<path d="M332.3,222.0h7M335.8,218.5v7" stroke="#E65A52" stroke-width="1.8"/>
<path d="M335.3,222.2h7M338.8,218.7v7" stroke="#E65A52" stroke-width="1.8"/>
<path d="M355.5,233.0h7M359.0,229.5v7" stroke="#E65A52" stroke-width="1.8"/>
<path d="M369.8,238.6h7M373.3,235.1v7" stroke="#E65A52" stroke-width="1.8"/>
<path d="M387.4,241.9h7M390.9,238.4v7" stroke="#E65A52" stroke-width="1.8"/>
<path d="M395.7,244.3h7M399.2,240.8v7" stroke="#E65A52" stroke-width="1.8"/>
<path d="M398.3,245.0h7M401.8,241.5v7" stroke="#E65A52" stroke-width="1.8"/>
<path d="M417.7,249.9h7M421.2,246.4v7" stroke="#E65A52" stroke-width="1.8"/>
<path d="M435.8,253.7h7M439.3,250.2v7" stroke="#E65A52" stroke-width="1.8"/>
<path d="M442.3,255.2h7M445.8,251.7v7" stroke="#E65A52" stroke-width="1.8"/>
<path d="M448.8,256.8h7M452.3,253.3v7" stroke="#E65A52" stroke-width="1.8"/>
<path d="M455.2,258.2h7M458.7,254.7v7" stroke="#E65A52" stroke-width="1.8"/>
<path d="M468.2,260.8h7M471.7,257.3v7" stroke="#E65A52" stroke-width="1.8"/>
<path d="M478.5,262.8h7M482.0,259.3v7" stroke="#E65A52" stroke-width="1.8"/>
<path d="M481.1,263.4h7M484.6,259.9v7" stroke="#E65A52" stroke-width="1.8"/>
<path d="M502.0,266.4h7M505.5,262.9v7" stroke="#E65A52" stroke-width="1.8"/>
<path d="M521.3,266.4h7M524.8,262.9v7" stroke="#E65A52" stroke-width="1.8"/>
<path d="M532.0,266.4h7M535.5,262.9v7" stroke="#E65A52" stroke-width="1.8"/>
<path d="M538.7,271.4h7M542.2,267.9v7" stroke="#E65A52" stroke-width="1.8"/>
<path d="M565.5,277.2h7M569.0,273.7v7" stroke="#E65A52" stroke-width="1.8"/>
<path d="M580.1,277.2h7M583.6,273.7v7" stroke="#E65A52" stroke-width="1.8"/>
<path d="M587.4,281.6h7M590.9,278.1v7" stroke="#E65A52" stroke-width="1.8"/>
<path d="M602.8,293.4h7M606.3,289.9v7" stroke="#E65A52" stroke-width="1.8"/>
<path d="M605.7,298.1h7M609.2,294.6v7" stroke="#E65A52" stroke-width="1.8"/>
<path d="M625.2,300.5h7M628.7,297.0v7" stroke="#E65A52" stroke-width="1.8"/>
<path d="M633.4,300.5h7M636.9,297.0v7" stroke="#E65A52" stroke-width="1.8"/>
<path d="M643.6,305.7h7M647.1,302.2v7" stroke="#E65A52" stroke-width="1.8"/>
<path d="M670.0,310.9h7M673.5,307.4v7" stroke="#E65A52" stroke-width="1.8"/>
<path d="M730.2,317.8h7M733.7,314.3v7" stroke="#E65A52" stroke-width="1.8"/>
<path d="M761.2,317.8h7M764.7,314.3v7" stroke="#E65A52" stroke-width="1.8"/>
<path d="M797.2,317.8h7M800.7,314.3v7" stroke="#E65A52" stroke-width="1.8"/>
<path d="M808.5,317.8h7M812.0,314.3v7" stroke="#E65A52" stroke-width="1.8"/>
<path d="M825.8,317.8h7M829.3,314.3v7" stroke="#E65A52" stroke-width="1.8"/>
<path d="M835.0,317.8h7M838.5,314.3v7" stroke="#E65A52" stroke-width="1.8"/>
<path d="M864.8,332.3h7M868.3,328.8v7" stroke="#E65A52" stroke-width="1.8"/><path d="M91.5,89.6h7M95.0,86.1v7" stroke="#6E9E00" stroke-width="1.8"/>
<path d="M95.5,93.7h7M99.0,90.2v7" stroke="#6E9E00" stroke-width="1.8"/>
<path d="M99.5,97.7h7M103.0,94.2v7" stroke="#6E9E00" stroke-width="1.8"/>
<path d="M104.5,101.5h7M108.0,98.0v7" stroke="#6E9E00" stroke-width="1.8"/>
<path d="M108.5,104.7h7M112.0,101.2v7" stroke="#6E9E00" stroke-width="1.8"/>
<path d="M113.5,110.0h7M117.0,106.5v7" stroke="#6E9E00" stroke-width="1.8"/>
<path d="M117.5,114.2h7M121.0,110.7v7" stroke="#6E9E00" stroke-width="1.8"/>
<path d="M122.5,119.9h7M126.0,116.4v7" stroke="#6E9E00" stroke-width="1.8"/>
<path d="M126.5,124.7h7M130.0,121.2v7" stroke="#6E9E00" stroke-width="1.8"/>
<path d="M130.5,129.5h7M134.0,126.0v7" stroke="#6E9E00" stroke-width="1.8"/>
<path d="M133.5,133.0h7M137.0,129.5v7" stroke="#6E9E00" stroke-width="1.8"/>
<path d="M137.3,136.1h7M140.8,132.6v7" stroke="#6E9E00" stroke-width="1.8"/>
<path d="M141.5,139.2h7M145.0,135.7v7" stroke="#6E9E00" stroke-width="1.8"/>
<path d="M147.0,143.3h7M150.5,139.8v7" stroke="#6E9E00" stroke-width="1.8"/>
<path d="M149.9,145.3h7M153.4,141.8v7" stroke="#6E9E00" stroke-width="1.8"/>
<path d="M152.8,147.2h7M156.3,143.7v7" stroke="#6E9E00" stroke-width="1.8"/>
<path d="M159.5,153.2h7M163.0,149.7v7" stroke="#6E9E00" stroke-width="1.8"/>
<path d="M166.5,160.5h7M170.0,157.0v7" stroke="#6E9E00" stroke-width="1.8"/>
<path d="M173.5,167.9h7M177.0,164.4v7" stroke="#6E9E00" stroke-width="1.8"/>
<path d="M181.9,176.5h7M185.4,173.0v7" stroke="#6E9E00" stroke-width="1.8"/>
<path d="M187.5,180.4h7M191.0,176.9v7" stroke="#6E9E00" stroke-width="1.8"/>
<path d="M195.5,186.0h7M199.0,182.5v7" stroke="#6E9E00" stroke-width="1.8"/>
<path d="M201.2,188.2h7M204.7,184.7v7" stroke="#6E9E00" stroke-width="1.8"/>
<path d="M206.1,189.7h7M209.6,186.2v7" stroke="#6E9E00" stroke-width="1.8"/>
<path d="M215.8,195.2h7M219.3,191.7v7" stroke="#6E9E00" stroke-width="1.8"/>
<path d="M222.5,199.9h7M226.0,196.4v7" stroke="#6E9E00" stroke-width="1.8"/>
<path d="M227.9,204.4h7M231.4,200.9v7" stroke="#6E9E00" stroke-width="1.8"/>
<path d="M232.8,208.4h7M236.3,204.9v7" stroke="#6E9E00" stroke-width="1.8"/>
<path d="M240.0,212.5h7M243.5,209.0v7" stroke="#6E9E00" stroke-width="1.8"/>
<path d="M242.5,213.9h7M246.0,210.4v7" stroke="#6E9E00" stroke-width="1.8"/>
<path d="M248.5,217.9h7M252.0,214.4v7" stroke="#6E9E00" stroke-width="1.8"/>
<path d="M254.5,223.1h7M258.0,219.6v7" stroke="#6E9E00" stroke-width="1.8"/>
<path d="M261.9,229.4h7M265.4,225.9v7" stroke="#6E9E00" stroke-width="1.8"/>
<path d="M269.2,235.8h7M272.7,232.3v7" stroke="#6E9E00" stroke-width="1.8"/>
<path d="M276.5,242.1h7M280.0,238.6v7" stroke="#6E9E00" stroke-width="1.8"/>
<path d="M283.0,247.8h7M286.5,244.3v7" stroke="#6E9E00" stroke-width="1.8"/>
<path d="M292.3,255.8h7M295.8,252.3v7" stroke="#6E9E00" stroke-width="1.8"/>
<path d="M301.5,262.5h7M305.0,259.0v7" stroke="#6E9E00" stroke-width="1.8"/>
<path d="M307.5,266.9h7M311.0,263.4v7" stroke="#6E9E00" stroke-width="1.8"/>
<path d="M315.3,272.6h7M318.8,269.1v7" stroke="#6E9E00" stroke-width="1.8"/>
<path d="M323.5,278.0h7M327.0,274.5v7" stroke="#6E9E00" stroke-width="1.8"/>
<path d="M332.3,281.3h7M335.8,277.8v7" stroke="#6E9E00" stroke-width="1.8"/>
<path d="M335.3,281.5h7M338.8,278.0v7" stroke="#6E9E00" stroke-width="1.8"/>
<path d="M355.5,293.9h7M359.0,290.4v7" stroke="#6E9E00" stroke-width="1.8"/>
<path d="M369.8,298.7h7M373.3,295.2v7" stroke="#6E9E00" stroke-width="1.8"/>
<path d="M387.4,304.9h7M390.9,301.4v7" stroke="#6E9E00" stroke-width="1.8"/>
<path d="M395.7,307.1h7M399.2,303.6v7" stroke="#6E9E00" stroke-width="1.8"/>
<path d="M398.3,307.8h7M401.8,304.3v7" stroke="#6E9E00" stroke-width="1.8"/>
<path d="M417.7,314.1h7M421.2,310.6v7" stroke="#6E9E00" stroke-width="1.8"/>
<path d="M435.8,318.6h7M439.3,315.1v7" stroke="#6E9E00" stroke-width="1.8"/>
<path d="M442.3,319.3h7M445.8,315.8v7" stroke="#6E9E00" stroke-width="1.8"/>
<path d="M448.8,319.9h7M452.3,316.4v7" stroke="#6E9E00" stroke-width="1.8"/>
<path d="M455.2,320.9h7M458.7,317.4v7" stroke="#6E9E00" stroke-width="1.8"/>
<path d="M468.2,323.3h7M471.7,319.8v7" stroke="#6E9E00" stroke-width="1.8"/>
<path d="M478.5,325.2h7M482.0,321.7v7" stroke="#6E9E00" stroke-width="1.8"/>
<path d="M481.1,325.7h7M484.6,322.2v7" stroke="#6E9E00" stroke-width="1.8"/>
<path d="M502.0,328.5h7M505.5,325.0v7" stroke="#6E9E00" stroke-width="1.8"/>
<path d="M521.3,328.5h7M524.8,325.0v7" stroke="#6E9E00" stroke-width="1.8"/>
<path d="M532.0,328.5h7M535.5,325.0v7" stroke="#6E9E00" stroke-width="1.8"/>
<path d="M538.7,333.5h7M542.2,330.0v7" stroke="#6E9E00" stroke-width="1.8"/>
<path d="M565.5,338.6h7M569.0,335.1v7" stroke="#6E9E00" stroke-width="1.8"/>
<path d="M580.1,338.6h7M583.6,335.1v7" stroke="#6E9E00" stroke-width="1.8"/>
<path d="M587.4,342.0h7M590.9,338.5v7" stroke="#6E9E00" stroke-width="1.8"/>
<path d="M602.8,352.2h7M606.3,348.7v7" stroke="#6E9E00" stroke-width="1.8"/>
<path d="M605.7,356.3h7M609.2,352.8v7" stroke="#6E9E00" stroke-width="1.8"/>
<path d="M625.2,358.8h7M628.7,355.3v7" stroke="#6E9E00" stroke-width="1.8"/>
<path d="M633.4,358.8h7M636.9,355.3v7" stroke="#6E9E00" stroke-width="1.8"/>
<path d="M643.6,362.5h7M647.1,359.0v7" stroke="#6E9E00" stroke-width="1.8"/>
<path d="M670.0,366.1h7M673.5,362.6v7" stroke="#6E9E00" stroke-width="1.8"/>
<path d="M730.2,371.3h7M733.7,367.8v7" stroke="#6E9E00" stroke-width="1.8"/>
<path d="M761.2,371.3h7M764.7,367.8v7" stroke="#6E9E00" stroke-width="1.8"/>
<path d="M797.2,371.3h7M800.7,367.8v7" stroke="#6E9E00" stroke-width="1.8"/>
<path d="M808.5,371.3h7M812.0,367.8v7" stroke="#6E9E00" stroke-width="1.8"/>
<path d="M825.8,371.3h7M829.3,367.8v7" stroke="#6E9E00" stroke-width="1.8"/>
<path d="M835.0,371.3h7M838.5,367.8v7" stroke="#6E9E00" stroke-width="1.8"/>
<path d="M864.8,380.7h7M868.3,377.2v7" stroke="#6E9E00" stroke-width="1.8"/><path d="M91.5,89.1h7M95.0,85.6v7" stroke="#00A8B4" stroke-width="1.8"/>
<path d="M95.5,92.7h7M99.0,89.2v7" stroke="#00A8B4" stroke-width="1.8"/>
<path d="M99.5,96.2h7M103.0,92.7v7" stroke="#00A8B4" stroke-width="1.8"/>
<path d="M104.5,99.5h7M108.0,96.0v7" stroke="#00A8B4" stroke-width="1.8"/>
<path d="M108.5,102.1h7M112.0,98.6v7" stroke="#00A8B4" stroke-width="1.8"/>
<path d="M113.5,105.5h7M117.0,102.0v7" stroke="#00A8B4" stroke-width="1.8"/>
<path d="M117.5,108.3h7M121.0,104.8v7" stroke="#00A8B4" stroke-width="1.8"/>
<path d="M122.5,112.5h7M126.0,109.0v7" stroke="#00A8B4" stroke-width="1.8"/>
<path d="M126.5,116.1h7M130.0,112.6v7" stroke="#00A8B4" stroke-width="1.8"/>
<path d="M130.5,119.7h7M134.0,116.2v7" stroke="#00A8B4" stroke-width="1.8"/>
<path d="M133.5,122.7h7M137.0,119.2v7" stroke="#00A8B4" stroke-width="1.8"/>
<path d="M137.3,126.5h7M140.8,123.0v7" stroke="#00A8B4" stroke-width="1.8"/>
<path d="M141.5,130.6h7M145.0,127.1v7" stroke="#00A8B4" stroke-width="1.8"/>
<path d="M147.0,135.9h7M150.5,132.4v7" stroke="#00A8B4" stroke-width="1.8"/>
<path d="M149.9,138.2h7M153.4,134.7v7" stroke="#00A8B4" stroke-width="1.8"/>
<path d="M152.8,140.4h7M156.3,136.9v7" stroke="#00A8B4" stroke-width="1.8"/>
<path d="M159.5,146.2h7M163.0,142.7v7" stroke="#00A8B4" stroke-width="1.8"/>
<path d="M166.5,152.8h7M170.0,149.3v7" stroke="#00A8B4" stroke-width="1.8"/>
<path d="M173.5,159.3h7M177.0,155.8v7" stroke="#00A8B4" stroke-width="1.8"/>
<path d="M181.9,167.0h7M185.4,163.5v7" stroke="#00A8B4" stroke-width="1.8"/>
<path d="M187.5,171.6h7M191.0,168.1v7" stroke="#00A8B4" stroke-width="1.8"/>
<path d="M195.5,178.2h7M199.0,174.7v7" stroke="#00A8B4" stroke-width="1.8"/>
<path d="M201.2,180.2h7M204.7,176.7v7" stroke="#00A8B4" stroke-width="1.8"/>
<path d="M206.1,181.4h7M209.6,177.9v7" stroke="#00A8B4" stroke-width="1.8"/>
<path d="M215.8,186.4h7M219.3,182.9v7" stroke="#00A8B4" stroke-width="1.8"/>
<path d="M222.5,190.6h7M226.0,187.1v7" stroke="#00A8B4" stroke-width="1.8"/>
<path d="M227.9,194.2h7M231.4,190.7v7" stroke="#00A8B4" stroke-width="1.8"/>
<path d="M232.8,197.4h7M236.3,193.9v7" stroke="#00A8B4" stroke-width="1.8"/>
<path d="M240.0,201.9h7M243.5,198.4v7" stroke="#00A8B4" stroke-width="1.8"/>
<path d="M242.5,203.5h7M246.0,200.0v7" stroke="#00A8B4" stroke-width="1.8"/>
<path d="M248.5,207.8h7M252.0,204.3v7" stroke="#00A8B4" stroke-width="1.8"/>
<path d="M254.5,213.1h7M258.0,209.6v7" stroke="#00A8B4" stroke-width="1.8"/>
<path d="M261.9,219.6h7M265.4,216.1v7" stroke="#00A8B4" stroke-width="1.8"/>
<path d="M269.2,225.9h7M272.7,222.4v7" stroke="#00A8B4" stroke-width="1.8"/>
<path d="M276.5,231.7h7M280.0,228.2v7" stroke="#00A8B4" stroke-width="1.8"/>
<path d="M283.0,236.9h7M286.5,233.4v7" stroke="#00A8B4" stroke-width="1.8"/>
<path d="M292.3,244.3h7M295.8,240.8v7" stroke="#00A8B4" stroke-width="1.8"/>
<path d="M301.5,250.8h7M305.0,247.3v7" stroke="#00A8B4" stroke-width="1.8"/>
<path d="M307.5,255.1h7M311.0,251.6v7" stroke="#00A8B4" stroke-width="1.8"/>
<path d="M315.3,260.6h7M318.8,257.1v7" stroke="#00A8B4" stroke-width="1.8"/>
<path d="M323.5,265.6h7M327.0,262.1v7" stroke="#00A8B4" stroke-width="1.8"/>
<path d="M332.3,268.6h7M335.8,265.1v7" stroke="#00A8B4" stroke-width="1.8"/>
<path d="M335.3,268.8h7M338.8,265.3v7" stroke="#00A8B4" stroke-width="1.8"/>
<path d="M355.5,280.8h7M359.0,277.3v7" stroke="#00A8B4" stroke-width="1.8"/>
<path d="M369.8,287.0h7M373.3,283.5v7" stroke="#00A8B4" stroke-width="1.8"/>
<path d="M387.4,291.5h7M390.9,288.0v7" stroke="#00A8B4" stroke-width="1.8"/>
<path d="M395.7,293.9h7M399.2,290.4v7" stroke="#00A8B4" stroke-width="1.8"/>
<path d="M398.3,294.7h7M401.8,291.2v7" stroke="#00A8B4" stroke-width="1.8"/>
<path d="M417.7,300.1h7M421.2,296.6v7" stroke="#00A8B4" stroke-width="1.8"/>
<path d="M435.8,306.9h7M439.3,303.4v7" stroke="#00A8B4" stroke-width="1.8"/>
<path d="M442.3,307.8h7M445.8,304.3v7" stroke="#00A8B4" stroke-width="1.8"/>
<path d="M448.8,308.5h7M452.3,305.0v7" stroke="#00A8B4" stroke-width="1.8"/>
<path d="M455.2,309.4h7M458.7,305.9v7" stroke="#00A8B4" stroke-width="1.8"/>
<path d="M468.2,311.7h7M471.7,308.2v7" stroke="#00A8B4" stroke-width="1.8"/>
<path d="M478.5,313.4h7M482.0,309.9v7" stroke="#00A8B4" stroke-width="1.8"/>
<path d="M481.1,313.9h7M484.6,310.4v7" stroke="#00A8B4" stroke-width="1.8"/>
<path d="M502.0,316.5h7M505.5,313.0v7" stroke="#00A8B4" stroke-width="1.8"/>
<path d="M521.3,316.5h7M524.8,313.0v7" stroke="#00A8B4" stroke-width="1.8"/>
<path d="M532.0,316.5h7M535.5,313.0v7" stroke="#00A8B4" stroke-width="1.8"/>
<path d="M538.7,321.0h7M542.2,317.5v7" stroke="#00A8B4" stroke-width="1.8"/>
<path d="M565.5,325.8h7M569.0,322.3v7" stroke="#00A8B4" stroke-width="1.8"/>
<path d="M580.1,325.8h7M583.6,322.3v7" stroke="#00A8B4" stroke-width="1.8"/>
<path d="M587.4,331.0h7M590.9,327.5v7" stroke="#00A8B4" stroke-width="1.8"/>
<path d="M602.8,341.7h7M606.3,338.2v7" stroke="#00A8B4" stroke-width="1.8"/>
<path d="M605.7,346.0h7M609.2,342.5v7" stroke="#00A8B4" stroke-width="1.8"/>
<path d="M625.2,348.6h7M628.7,345.1v7" stroke="#00A8B4" stroke-width="1.8"/>
<path d="M633.4,348.6h7M636.9,345.1v7" stroke="#00A8B4" stroke-width="1.8"/>
<path d="M643.6,352.6h7M647.1,349.1v7" stroke="#00A8B4" stroke-width="1.8"/>
<path d="M670.0,356.6h7M673.5,353.1v7" stroke="#00A8B4" stroke-width="1.8"/>
<path d="M730.2,361.5h7M733.7,358.0v7" stroke="#00A8B4" stroke-width="1.8"/>
<path d="M761.2,361.5h7M764.7,358.0v7" stroke="#00A8B4" stroke-width="1.8"/>
<path d="M797.2,361.5h7M800.7,358.0v7" stroke="#00A8B4" stroke-width="1.8"/>
<path d="M808.5,361.5h7M812.0,358.0v7" stroke="#00A8B4" stroke-width="1.8"/>
<path d="M825.8,361.5h7M829.3,358.0v7" stroke="#00A8B4" stroke-width="1.8"/>
<path d="M835.0,361.5h7M838.5,358.0v7" stroke="#00A8B4" stroke-width="1.8"/>
<path d="M864.8,372.5h7M868.3,369.0v7" stroke="#00A8B4" stroke-width="1.8"/><path d="M91.5,93.5h7M95.0,90.0v7" stroke="#B066F0" stroke-width="1.8"/>
<path d="M95.5,99.7h7M99.0,96.2v7" stroke="#B066F0" stroke-width="1.8"/>
<path d="M99.5,103.7h7M103.0,100.2v7" stroke="#B066F0" stroke-width="1.8"/>
<path d="M104.5,108.0h7M108.0,104.5v7" stroke="#B066F0" stroke-width="1.8"/>
<path d="M108.5,113.0h7M112.0,109.5v7" stroke="#B066F0" stroke-width="1.8"/>
<path d="M113.5,121.9h7M117.0,118.4v7" stroke="#B066F0" stroke-width="1.8"/>
<path d="M117.5,127.1h7M121.0,123.6v7" stroke="#B066F0" stroke-width="1.8"/>
<path d="M122.5,138.2h7M126.0,134.7v7" stroke="#B066F0" stroke-width="1.8"/>
<path d="M126.5,147.4h7M130.0,143.9v7" stroke="#B066F0" stroke-width="1.8"/>
<path d="M130.5,155.8h7M134.0,152.3v7" stroke="#B066F0" stroke-width="1.8"/>
<path d="M133.5,159.3h7M137.0,155.8v7" stroke="#B066F0" stroke-width="1.8"/>
<path d="M137.3,163.3h7M140.8,159.8v7" stroke="#B066F0" stroke-width="1.8"/>
<path d="M141.5,167.3h7M145.0,163.8v7" stroke="#B066F0" stroke-width="1.8"/>
<path d="M147.0,172.7h7M150.5,169.2v7" stroke="#B066F0" stroke-width="1.8"/>
<path d="M149.9,175.9h7M153.4,172.4v7" stroke="#B066F0" stroke-width="1.8"/>
<path d="M152.8,179.2h7M156.3,175.7v7" stroke="#B066F0" stroke-width="1.8"/>
<path d="M159.5,186.8h7M163.0,183.3v7" stroke="#B066F0" stroke-width="1.8"/>
<path d="M166.5,192.9h7M170.0,189.4v7" stroke="#B066F0" stroke-width="1.8"/>
<path d="M173.5,199.5h7M177.0,196.0v7" stroke="#B066F0" stroke-width="1.8"/>
<path d="M181.9,208.2h7M185.4,204.7v7" stroke="#B066F0" stroke-width="1.8"/>
<path d="M187.5,215.5h7M191.0,212.0v7" stroke="#B066F0" stroke-width="1.8"/>
<path d="M195.5,226.9h7M199.0,223.4v7" stroke="#B066F0" stroke-width="1.8"/>
<path d="M201.2,229.1h7M204.7,225.6v7" stroke="#B066F0" stroke-width="1.8"/>
<path d="M206.1,230.5h7M209.6,227.0v7" stroke="#B066F0" stroke-width="1.8"/>
<path d="M215.8,239.6h7M219.3,236.1v7" stroke="#B066F0" stroke-width="1.8"/>
<path d="M222.5,246.7h7M226.0,243.2v7" stroke="#B066F0" stroke-width="1.8"/>
<path d="M227.9,251.5h7M231.4,248.0v7" stroke="#B066F0" stroke-width="1.8"/>
<path d="M232.8,254.8h7M236.3,251.3v7" stroke="#B066F0" stroke-width="1.8"/>
<path d="M240.0,259.6h7M243.5,256.1v7" stroke="#B066F0" stroke-width="1.8"/>
<path d="M242.5,261.3h7M246.0,257.8v7" stroke="#B066F0" stroke-width="1.8"/>
<path d="M248.5,266.8h7M252.0,263.2v7" stroke="#B066F0" stroke-width="1.8"/>
<path d="M254.5,273.1h7M258.0,269.6v7" stroke="#B066F0" stroke-width="1.8"/>
<path d="M261.9,278.6h7M265.4,275.1v7" stroke="#B066F0" stroke-width="1.8"/>
<path d="M269.2,283.3h7M272.7,279.8v7" stroke="#B066F0" stroke-width="1.8"/>
<path d="M276.5,290.5h7M280.0,287.0v7" stroke="#B066F0" stroke-width="1.8"/>
<path d="M283.0,299.1h7M286.5,295.6v7" stroke="#B066F0" stroke-width="1.8"/>
<path d="M292.3,305.4h7M295.8,301.9v7" stroke="#B066F0" stroke-width="1.8"/>
<path d="M301.5,311.3h7M305.0,307.8v7" stroke="#B066F0" stroke-width="1.8"/>
<path d="M307.5,316.1h7M311.0,312.6v7" stroke="#B066F0" stroke-width="1.8"/>
<path d="M315.3,323.5h7M318.8,320.0v7" stroke="#B066F0" stroke-width="1.8"/>
<path d="M323.5,327.8h7M327.0,324.3v7" stroke="#B066F0" stroke-width="1.8"/>
<path d="M332.3,331.5h7M335.8,328.0v7" stroke="#B066F0" stroke-width="1.8"/>
<path d="M335.3,331.5h7M338.8,328.0v7" stroke="#B066F0" stroke-width="1.8"/>
<path d="M355.5,341.8h7M359.0,338.3v7" stroke="#B066F0" stroke-width="1.8"/>
<path d="M369.8,347.6h7M373.3,344.1v7" stroke="#B066F0" stroke-width="1.8"/>
<path d="M387.4,350.8h7M390.9,347.2v7" stroke="#B066F0" stroke-width="1.8"/>
<path d="M395.7,353.4h7M399.2,349.9v7" stroke="#B066F0" stroke-width="1.8"/>
<path d="M398.3,354.2h7M401.8,350.7v7" stroke="#B066F0" stroke-width="1.8"/>
<path d="M417.7,357.7h7M421.2,354.2v7" stroke="#B066F0" stroke-width="1.8"/>
<path d="M435.8,361.4h7M439.3,357.9v7" stroke="#B066F0" stroke-width="1.8"/>
<path d="M442.3,362.4h7M445.8,358.9v7" stroke="#B066F0" stroke-width="1.8"/>
<path d="M448.8,363.3h7M452.3,359.8v7" stroke="#B066F0" stroke-width="1.8"/>
<path d="M455.2,364.2h7M458.7,360.7v7" stroke="#B066F0" stroke-width="1.8"/>
<path d="M468.2,365.9h7M471.7,362.4v7" stroke="#B066F0" stroke-width="1.8"/>
<path d="M478.5,367.3h7M482.0,363.8v7" stroke="#B066F0" stroke-width="1.8"/>
<path d="M481.1,367.7h7M484.6,364.2v7" stroke="#B066F0" stroke-width="1.8"/>
<path d="M502.0,369.8h7M505.5,366.3v7" stroke="#B066F0" stroke-width="1.8"/>
<path d="M521.3,369.8h7M524.8,366.3v7" stroke="#B066F0" stroke-width="1.8"/>
<path d="M532.0,369.8h7M535.5,366.3v7" stroke="#B066F0" stroke-width="1.8"/>
<path d="M538.7,373.1h7M542.2,369.6v7" stroke="#B066F0" stroke-width="1.8"/>
<path d="M565.5,376.0h7M569.0,372.5v7" stroke="#B066F0" stroke-width="1.8"/>
<path d="M580.1,379.9h7M583.6,376.4v7" stroke="#B066F0" stroke-width="1.8"/>
<path d="M587.4,379.9h7M590.9,376.4v7" stroke="#B066F0" stroke-width="1.8"/>
<path d="M602.8,384.9h7M606.3,381.4v7" stroke="#B066F0" stroke-width="1.8"/>
<path d="M605.7,386.8h7M609.2,383.3v7" stroke="#B066F0" stroke-width="1.8"/>
<path d="M625.2,388.6h7M628.7,385.1v7" stroke="#B066F0" stroke-width="1.8"/>
<path d="M633.4,388.6h7M636.9,385.1v7" stroke="#B066F0" stroke-width="1.8"/>
<path d="M643.6,389.1h7M647.1,385.6v7" stroke="#B066F0" stroke-width="1.8"/>
<path d="M670.0,393.6h7M673.5,390.1v7" stroke="#B066F0" stroke-width="1.8"/>
<path d="M730.2,395.9h7M733.7,392.4v7" stroke="#B066F0" stroke-width="1.8"/>
<path d="M761.2,395.9h7M764.7,392.4v7" stroke="#B066F0" stroke-width="1.8"/>
<path d="M797.2,395.9h7M800.7,392.4v7" stroke="#B066F0" stroke-width="1.8"/>
<path d="M808.5,395.9h7M812.0,392.4v7" stroke="#B066F0" stroke-width="1.8"/>
<path d="M825.8,395.9h7M829.3,392.4v7" stroke="#B066F0" stroke-width="1.8"/>
<path d="M835.0,395.9h7M838.5,392.4v7" stroke="#B066F0" stroke-width="1.8"/>
<path d="M864.8,400.0h7M868.3,396.5v7" stroke="#B066F0" stroke-width="1.8"/>
<path d="M50.8,69.6V423.6H930" fill="none" stroke="#222" stroke-width="1.5"/><path d="M47.5,85.4H50.7" stroke="#000" stroke-width="1.1"/><path d="M47.5,165.9H50.7" stroke="#000" stroke-width="1.1"/><path d="M47.5,246.4H50.7" stroke="#000" stroke-width="1.1"/><path d="M47.5,327.0H50.7" stroke="#000" stroke-width="1.1"/><path d="M47.5,407.5H50.7" stroke="#000" stroke-width="1.1"/><path d="M91.0,423.6V427" stroke="#000" stroke-width="1.1"/><path d="M250.7,423.6V427" stroke="#000" stroke-width="1.1"/><path d="M410.4,423.6V427" stroke="#000" stroke-width="1.1"/><path d="M570.1,423.6V427" stroke="#000" stroke-width="1.1"/><path d="M729.8,423.6V427" stroke="#000" stroke-width="1.1"/><path d="M889.5,423.6V427" stroke="#000" stroke-width="1.1"/><path d="M39.9,495V580.2H930" fill="none" stroke="#222" stroke-width="1.5"/><path d="M36.7,537.7H39.9" stroke="#000" stroke-width="1.1"/><path d="M80.5,580.2V583.5" stroke="#000" stroke-width="1.1"/><path d="M242.2,580.2V583.5" stroke="#000" stroke-width="1.1"/><path d="M403.9,580.2V583.5" stroke="#000" stroke-width="1.1"/><path d="M565.6,580.2V583.5" stroke="#000" stroke-width="1.1"/><path d="M727.3,580.2V583.5" stroke="#000" stroke-width="1.1"/><path d="M889.0,580.2V583.5" stroke="#000" stroke-width="1.1"/>
<rect x="358.6" y="32" width="17" height="17" fill="#F66B6E" fill-opacity="0.32"/><path d="M359.6,40.5h15M367.1,37v7" stroke="#E65A52" stroke-width="2"/><rect x="449.9" y="32" width="17" height="17" fill="#7CA51E" fill-opacity="0.32"/><path d="M450.9,40.5h15M458.4,37v7" stroke="#6E9E00" stroke-width="2"/><rect x="528.2" y="32" width="17" height="17" fill="#31B8B6" fill-opacity="0.32"/><path d="M529.2,40.5h15M536.7,37v7" stroke="#00A8B4" stroke-width="2"/><rect x="634.1" y="32" width="17" height="17" fill="#B970FC" fill-opacity="0.32"/><path d="M635.1,40.5h15M642.6,37v7" stroke="#B066F0" stroke-width="2"/>
<text x="51.5" y="15.2" font-size="17.4" text-anchor="start" fill="#000" >PASI Model: CVD Survival Curves by PASI Severity and Hypertension</text><text x="261.8" y="45.2" font-size="11" text-anchor="start" fill="#000" >PASI-HTN Groups</text><text x="383.1" y="45.2" font-size="11" text-anchor="start" fill="#000" >Mild-NoHTN</text><text x="474.4" y="45.2" font-size="11" text-anchor="start" fill="#000" >Mild-HTN</text><text x="552.7" y="45.2" font-size="11" text-anchor="start" fill="#000" >Severe-NoHTN</text><text x="658.6" y="45.2" font-size="11" text-anchor="start" fill="#000" >Severe-HTN</text><text x="44.8" y="89.99999999999997" font-size="13" text-anchor="end" fill="#111" >1.00</text><text x="44.8" y="170.52499999999998" font-size="13" text-anchor="end" fill="#111" >0.75</text><text x="44.8" y="251.04999999999998" font-size="13" text-anchor="end" fill="#111" >0.50</text><text x="44.8" y="331.57500000000005" font-size="13" text-anchor="end" fill="#111" >0.25</text><text x="44.8" y="412.1" font-size="13" text-anchor="end" fill="#111" >0.00</text><text x="91.0" y="439.6" font-size="13.2" text-anchor="middle" fill="#111" >0</text><text x="250.70000000000002" y="439.6" font-size="13.2" text-anchor="middle" fill="#111" >10</text><text x="410.40000000000003" y="439.6" font-size="13.2" text-anchor="middle" fill="#111" >20</text><text x="570.1" y="439.6" font-size="13.2" text-anchor="middle" fill="#111" >30</text><text x="729.8000000000001" y="439.6" font-size="13.2" text-anchor="middle" fill="#111" >40</text><text x="889.5" y="439.6" font-size="13.2" text-anchor="middle" fill="#111" >50</text><text x="490.5" y="456" font-size="15.2" text-anchor="middle" fill="#000" >Time (Months)</text><text x="0" y="0" font-size="15.3" text-anchor="middle" transform="translate(13.2,247) rotate(-90)">CVD-free Survival Probability</text><text x="40.2" y="485.2" font-size="17.4" text-anchor="start" fill="#000" >Number at risk</text><text x="33.8" y="542.8" font-size="14" text-anchor="end" fill="#E0625A" >All</text><text x="80.5" y="542.8" font-size="14" text-anchor="middle" fill="#000" >320</text><text x="80.5" y="595.6" font-size="13.2" text-anchor="middle" fill="#111" >0</text><text x="242.20000000000002" y="542.8" font-size="14" text-anchor="middle" fill="#000" >149</text><text x="242.20000000000002" y="595.6" font-size="13.2" text-anchor="middle" fill="#111" >10</text><text x="403.90000000000003" y="542.8" font-size="14" text-anchor="middle" fill="#000" >61</text><text x="403.90000000000003" y="595.6" font-size="13.2" text-anchor="middle" fill="#111" >20</text><text x="565.6" y="542.8" font-size="14" text-anchor="middle" fill="#000" >33</text><text x="565.6" y="595.6" font-size="13.2" text-anchor="middle" fill="#111" >30</text><text x="727.3000000000001" y="542.8" font-size="14" text-anchor="middle" fill="#000" >11</text><text x="727.3000000000001" y="595.6" font-size="13.2" text-anchor="middle" fill="#111" >40</text><text x="889.0000000000001" y="542.8" font-size="14" text-anchor="middle" fill="#000" >2</text><text x="889.0000000000001" y="595.6" font-size="13.2" text-anchor="middle" fill="#111" >50</text><text x="485" y="612" font-size="15.2" text-anchor="middle" fill="#000" >Time (Months)</text><text x="0" y="0" font-size="15.3" text-anchor="middle" transform="translate(13.6,537.4) rotate(-90)">PASI-HTN Groups</text>
</svg>
</body></html>
